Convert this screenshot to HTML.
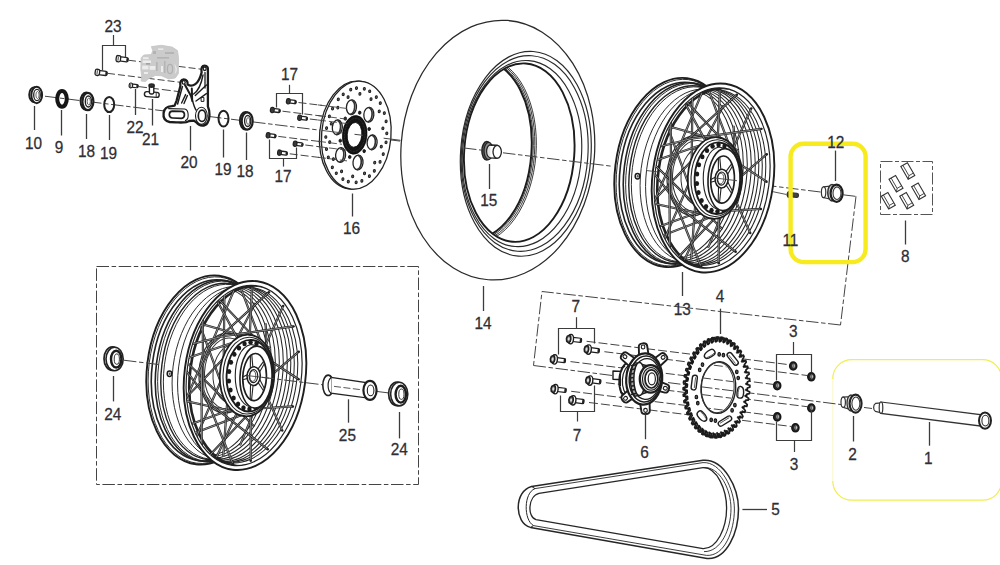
<!DOCTYPE html>
<html><head><meta charset="utf-8"><title>Rear wheel assembly</title>
<style>
html,body{margin:0;padding:0;background:#fff;}
body{width:1000px;height:565px;overflow:hidden;font-family:"Liberation Sans",sans-serif;}
svg{display:block;}
text{font-family:"Liberation Sans",sans-serif;}
</style></head><body>
<svg width="1000" height="565" viewBox="0 0 1000 565" stroke-linecap="butt">
<rect x="0" y="0" width="1000" height="565" fill="#fff"/>
<line x1="45" y1="96.23" x2="163" y2="110.81" stroke="#444" stroke-width="1" stroke-dasharray="12.5 2.6 4.5 2.6" stroke-dashoffset="0"/>
<line x1="209" y1="116.49" x2="322" y2="130.44" stroke="#444" stroke-width="1" stroke-dasharray="12.5 2.6 4.5 2.6" stroke-dashoffset="0"/>
<line x1="366" y1="136.88" x2="400" y2="141.08" stroke="#444" stroke-width="1" stroke-dasharray="12.5 2.6 4.5 2.6" stroke-dashoffset="0"/>
<line x1="742" y1="182.31" x2="822" y2="192.19" stroke="#444" stroke-width="1" stroke-dasharray="12.5 2.6 4.5 2.6" stroke-dashoffset="0"/>
<line x1="843" y1="194.79" x2="856" y2="196.39" stroke="#444" stroke-width="1" stroke-dasharray="12.5 2.6 4.5 2.6" stroke-dashoffset="0"/>
<line x1="771" y1="191.3" x2="786" y2="194.4" stroke="#444" stroke-width="0.9" />
<line x1="856" y1="196.39" x2="840.5" y2="325" stroke="#444" stroke-width="1" stroke-dasharray="12.5 2.6 4.5 2.6" stroke-dashoffset="0"/>
<ellipse cx="34.4" cy="94.7" rx="5.2" ry="7.6" fill="#fff" stroke="#1e1e1e" stroke-width="1.9" />
<ellipse cx="36.7" cy="95" rx="5.4" ry="8.2" fill="#fff" stroke="#1e1e1e" stroke-width="2.0" />
<ellipse cx="37" cy="95" rx="3.3" ry="5.6" fill="none" stroke="#222" stroke-width="1.3" />
<ellipse cx="37.5" cy="95" rx="1.6" ry="3.5" fill="none" stroke="#444" stroke-width="0.8" />
<ellipse cx="62" cy="98.8" rx="4.8" ry="7.9" fill="none" stroke="#161616" stroke-width="4.0" />
<ellipse cx="86.2" cy="101.2" rx="5.6" ry="8.8" fill="#fff" stroke="#1e1e1e" stroke-width="2.0" />
<ellipse cx="87.9" cy="101.5" rx="5.5" ry="8.6" fill="#fff" stroke="#1e1e1e" stroke-width="2.2" />
<ellipse cx="88.4" cy="101.5" rx="3.1" ry="5.5" fill="none" stroke="#222" stroke-width="1.4" />
<ellipse cx="88.8" cy="101.5" rx="1.6" ry="3.4" fill="none" stroke="#444" stroke-width="0.8" />
<ellipse cx="245.5" cy="120.7" rx="5.6" ry="8.8" fill="#fff" stroke="#1e1e1e" stroke-width="2.0" />
<ellipse cx="247.2" cy="121" rx="5.5" ry="8.6" fill="#fff" stroke="#1e1e1e" stroke-width="2.2" />
<ellipse cx="247.7" cy="121" rx="3.1" ry="5.5" fill="none" stroke="#222" stroke-width="1.4" />
<ellipse cx="248.1" cy="121" rx="1.6" ry="3.4" fill="none" stroke="#444" stroke-width="0.8" />
<ellipse cx="109.2" cy="104.5" rx="5" ry="7.6" fill="none" stroke="#222" stroke-width="2.0" />
<ellipse cx="223.5" cy="118.6" rx="5" ry="7.9" fill="none" stroke="#222" stroke-width="2.0" />
<g transform="translate(116.2 58.4) rotate(7)" stroke="#222" stroke-width="1.3">
<rect x="3.9" y="-2.1" width="8" height="4.2" rx="1.2" fill="#fff"/>
<rect x="10.2" y="-1.8" width="2.2" height="3.6" rx="0.8" fill="#222" stroke="none"/>
<rect x="0" y="-3.1" width="4.4" height="6.2" rx="1.8" fill="#fff"/>
<line x1="1.98" y1="-2.1" x2="1.98" y2="2.1" stroke-width="0.8"/>
</g>
<g transform="translate(95.2 72.1) rotate(7)" stroke="#222" stroke-width="1.3">
<rect x="3.9" y="-2.1" width="8" height="4.2" rx="1.2" fill="#fff"/>
<rect x="10.2" y="-1.8" width="2.2" height="3.6" rx="0.8" fill="#222" stroke="none"/>
<rect x="0" y="-3.1" width="4.4" height="6.2" rx="1.8" fill="#fff"/>
<line x1="1.98" y1="-2.1" x2="1.98" y2="2.1" stroke-width="0.8"/>
</g>
<g transform="translate(129.2 85.2) rotate(7)" stroke="#222" stroke-width="1.2">
<rect x="2.9" y="-1.6" width="6" height="3.2" rx="1.2" fill="#fff"/>
<rect x="7.2" y="-1.3" width="2.2" height="2.6" rx="0.8" fill="#222" stroke="none"/>
<rect x="0" y="-2.4" width="3.4" height="4.8" rx="1.8" fill="#fff"/>
<line x1="1.53" y1="-1.4" x2="1.53" y2="1.4" stroke-width="0.8"/>
</g>
<g transform="translate(286.5 101) rotate(7)" stroke="#222" stroke-width="1.3">
<rect x="3.1" y="-1.7" width="6.5" height="3.4" rx="1.2" fill="#fff"/>
<rect x="7.9" y="-1.4" width="2.2" height="2.8" rx="0.8" fill="#222" stroke="none"/>
<rect x="0" y="-2.6" width="3.6" height="5.2" rx="1.8" fill="#4a4a4a"/>
<line x1="1.62" y1="-1.6" x2="1.62" y2="1.6" stroke-width="0.8"/>
</g>
<g transform="translate(270.5 109.8) rotate(7)" stroke="#222" stroke-width="1.3">
<rect x="3.1" y="-1.7" width="6.5" height="3.4" rx="1.2" fill="#fff"/>
<rect x="7.9" y="-1.4" width="2.2" height="2.8" rx="0.8" fill="#222" stroke="none"/>
<rect x="0" y="-2.6" width="3.6" height="5.2" rx="1.8" fill="#4a4a4a"/>
<line x1="1.62" y1="-1.6" x2="1.62" y2="1.6" stroke-width="0.8"/>
</g>
<g transform="translate(297.8 117.5) rotate(7)" stroke="#222" stroke-width="1.3">
<rect x="3.1" y="-1.7" width="6.5" height="3.4" rx="1.2" fill="#fff"/>
<rect x="7.9" y="-1.4" width="2.2" height="2.8" rx="0.8" fill="#222" stroke="none"/>
<rect x="0" y="-2.6" width="3.6" height="5.2" rx="1.8" fill="#4a4a4a"/>
<line x1="1.62" y1="-1.6" x2="1.62" y2="1.6" stroke-width="0.8"/>
</g>
<g transform="translate(266.3 135) rotate(7)" stroke="#222" stroke-width="1.3">
<rect x="3.1" y="-1.7" width="6.5" height="3.4" rx="1.2" fill="#fff"/>
<rect x="7.9" y="-1.4" width="2.2" height="2.8" rx="0.8" fill="#222" stroke="none"/>
<rect x="0" y="-2.6" width="3.6" height="5.2" rx="1.8" fill="#4a4a4a"/>
<line x1="1.62" y1="-1.6" x2="1.62" y2="1.6" stroke-width="0.8"/>
</g>
<g transform="translate(293.3 143.5) rotate(7)" stroke="#222" stroke-width="1.3">
<rect x="3.1" y="-1.7" width="6.5" height="3.4" rx="1.2" fill="#fff"/>
<rect x="7.9" y="-1.4" width="2.2" height="2.8" rx="0.8" fill="#222" stroke="none"/>
<rect x="0" y="-2.6" width="3.6" height="5.2" rx="1.8" fill="#4a4a4a"/>
<line x1="1.62" y1="-1.6" x2="1.62" y2="1.6" stroke-width="0.8"/>
</g>
<g transform="translate(277.7 152.4) rotate(7)" stroke="#222" stroke-width="1.3">
<rect x="3.1" y="-1.7" width="6.5" height="3.4" rx="1.2" fill="#fff"/>
<rect x="7.9" y="-1.4" width="2.2" height="2.8" rx="0.8" fill="#222" stroke="none"/>
<rect x="0" y="-2.6" width="3.6" height="5.2" rx="1.8" fill="#4a4a4a"/>
<line x1="1.62" y1="-1.6" x2="1.62" y2="1.6" stroke-width="0.8"/>
</g>
<line x1="129" y1="60.3" x2="202" y2="69.3" stroke="#444" stroke-width="1" stroke-dasharray="7 3"/>
<line x1="108" y1="73.4" x2="181" y2="82.4" stroke="#444" stroke-width="1" stroke-dasharray="7 3"/>
<line x1="138" y1="86.5" x2="178" y2="91.5" stroke="#444" stroke-width="1" stroke-dasharray="9 3"/>
<line x1="298.5" y1="102.5" x2="322" y2="105.4" stroke="#444" stroke-width="1" stroke-dasharray="8 3"/>
<line x1="282.5" y1="111.2" x2="322" y2="116.08" stroke="#444" stroke-width="1" stroke-dasharray="8 3"/>
<line x1="309.8" y1="119" x2="322" y2="120.51" stroke="#444" stroke-width="1" stroke-dasharray="8 3"/>
<line x1="278.3" y1="136.4" x2="322" y2="141.8" stroke="#444" stroke-width="1" stroke-dasharray="8 3"/>
<line x1="305.3" y1="145" x2="322" y2="147.06" stroke="#444" stroke-width="1" stroke-dasharray="8 3"/>
<line x1="289.7" y1="153.8" x2="322" y2="157.79" stroke="#444" stroke-width="1" stroke-dasharray="8 3"/>
<g stroke="#222" stroke-width="1.4" fill="#fff"><rect x="144.4" y="92" width="14.8" height="5" rx="2.4" transform="rotate(4 152 94.5)"/><rect x="149.4" y="85" width="4.4" height="9" rx="1.4"/><ellipse cx="151.6" cy="85.6" rx="2.6" ry="1.7" fill="#333"/><line x1="156.2" y1="93" x2="156.2" y2="97"  stroke-width="0.9"/></g>
<g fill="#cbcbcb" stroke="#c4c4c4" stroke-width="0.8" stroke-linejoin="round">
<path d="M151.4,46.6 L161.5,45.3 L172.2,47.1 L177.5,50.6 L178.5,57.7 L178.4,73.6 L175.3,78 L168.6,78.9 L161.5,75.8 L155.4,75.4 L148.3,78.9 L145.6,81.6 L141.2,81.1 L141.6,75.4 L140.8,69.2 L141.2,57.7 L143.8,55 L151.4,54.6 L152.7,50.6 Z"/>
</g>
<g fill="#ececec" stroke="none"><rect x="143" y="57.2" width="5.6" height="2"/><rect x="142.6" y="60.4" width="8.4" height="2.6"/><rect x="142.2" y="65.6" width="6.2" height="3.8"/><rect x="149.6" y="66" width="5.8" height="3.8"/><rect x="158" y="48.4" width="5.4" height="1.5"/><path d="M174.2,64 C177.5,66 177.5,72 174.8,74 C176,71 176,67 174.2,64 Z"/><rect x="144" y="72" width="4" height="2"/><rect x="161" y="66" width="2" height="6"/></g>
<g fill="#b4b4b4" stroke="none"><rect x="153" y="51" width="3" height="3"/><rect x="165" y="52" width="9" height="2"/><rect x="157" y="57" width="12" height="1.6"/><rect x="156" y="62" width="1.6" height="9"/><rect x="164" y="61" width="1.5" height="12"/><ellipse cx="170" cy="69" rx="2.6" ry="4.6" fill="none" stroke="#b0b0b0" stroke-width="1.2"/><rect x="146" y="63.4" width="4" height="1" fill="#888"/></g>
<g stroke="#1c1c1c" fill="none" stroke-linejoin="round" stroke-linecap="round">
<path d="M204.6,65.6 C207.2,65.6 208.2,67.6 207.9,70.4 L207.9,106.5 C210,111 210.2,119 207.4,123 C204.8,126.6 199.6,126.6 196.6,122.6 L194,120.6 L189,121 C187,123 183,122.6 176,122.4 L169.6,122 C164.6,121 163,117.6 163.6,113 C164.2,108.6 167.6,106.4 171.6,106.2 L174.6,105.6 L176.6,100.6 L180.4,86 C179.6,82 181.2,79.4 183.6,79.3 C186.6,79.3 188,81.6 187.6,84.6 C192.4,87.4 198.6,84.6 201.6,72.4 C200.8,68 202.2,65.6 204.6,65.6 Z" stroke-width="2.3" fill="#fff"/>
<path d="M172.6,111.2 L181.6,111.4 C185.4,111.6 185.4,118 181.6,118.3 L172.6,118 C168.2,117.8 168.2,111.3 172.6,111.2 Z" stroke-width="1.7"/>
<path d="M168.6,108.6 L184.6,109 C189,109.6 189.4,119.4 185.4,120.6" stroke-width="1.1"/>
<ellipse cx="202" cy="115.8" rx="3.7" ry="5.7" stroke-width="1.7"/>
<ellipse cx="201.4" cy="115.8" rx="5.9" ry="8.6" stroke-width="1.1"/>
<path d="M185,85 L191,96 L192.4,101 M191.8,88.6 L192.2,101" stroke-width="2"/>
<path d="M182.4,86.6 L177.6,104" stroke-width="1.5"/>
<path d="M185.6,94.6 L181.6,103 M187.4,95.6 L184,103.6" stroke-width="1.4"/>
<path d="M195.3,95.6 L206.4,85 M196,101 L206.4,93.6" stroke-width="1.4"/>
<path d="M205,72.6 L205,88" stroke-width="1.3"/>
<path d="M203,75 C201,86 196.6,92 193.6,94" stroke-width="1.4"/>
<path d="M192.6,101 C194,106 194.6,108 196,110" stroke-width="1.4"/>
<rect x="201.5" y="97.4" width="2.4" height="4" stroke-width="1"/>
<ellipse cx="204.7" cy="68.8" rx="1.5" ry="1.7" stroke-width="1.3"/>
<ellipse cx="183.7" cy="82.4" rx="1.5" ry="1.7" stroke-width="1.3"/>
</g>
<g transform="rotate(5 356.3 135.2)">
<ellipse cx="354.3" cy="135.2" rx="34.7" ry="54.1" fill="#fff" stroke="#222" stroke-width="1.3" />
<ellipse cx="356.3" cy="135.2" rx="34.7" ry="54.1" fill="#fff" stroke="#222" stroke-width="1.3" />
<ellipse cx="360.24" cy="182.14" rx="1.05" ry="1.35" fill="#666" stroke="#1c1c1c" stroke-width="1.0" />
<ellipse cx="352.36" cy="182.14" rx="1.05" ry="1.35" fill="#666" stroke="#1c1c1c" stroke-width="1.0" />
<ellipse cx="356.3" cy="176.59" rx="1.05" ry="1.35" fill="#666" stroke="#1c1c1c" stroke-width="1.0" />
<ellipse cx="346.78" cy="180.15" rx="1.05" ry="1.35" fill="#666" stroke="#1c1c1c" stroke-width="1.0" />
<ellipse cx="339.69" cy="174.83" rx="1.05" ry="1.35" fill="#666" stroke="#1c1c1c" stroke-width="1.0" />
<ellipse cx="344.78" cy="172.49" rx="1.05" ry="1.35" fill="#666" stroke="#1c1c1c" stroke-width="1.0" />
<ellipse cx="335.22" cy="169.26" rx="1.05" ry="1.35" fill="#666" stroke="#1c1c1c" stroke-width="1.0" />
<ellipse cx="330.31" cy="159.67" rx="1.05" ry="1.35" fill="#666" stroke="#1c1c1c" stroke-width="1.0" />
<ellipse cx="335.55" cy="161" rx="1.05" ry="1.35" fill="#666" stroke="#1c1c1c" stroke-width="1.0" />
<ellipse cx="327.82" cy="151.63" rx="1.05" ry="1.35" fill="#666" stroke="#1c1c1c" stroke-width="1.0" />
<ellipse cx="326.07" cy="139.66" rx="1.05" ry="1.35" fill="#666" stroke="#1c1c1c" stroke-width="1.0" />
<ellipse cx="330.42" cy="144.41" rx="1.05" ry="1.35" fill="#666" stroke="#1c1c1c" stroke-width="1.0" />
<ellipse cx="326.07" cy="130.74" rx="1.05" ry="1.35" fill="#666" stroke="#1c1c1c" stroke-width="1.0" />
<ellipse cx="327.82" cy="118.77" rx="1.05" ry="1.35" fill="#666" stroke="#1c1c1c" stroke-width="1.0" />
<ellipse cx="330.42" cy="125.99" rx="1.05" ry="1.35" fill="#666" stroke="#1c1c1c" stroke-width="1.0" />
<ellipse cx="330.31" cy="110.73" rx="1.05" ry="1.35" fill="#666" stroke="#1c1c1c" stroke-width="1.0" />
<ellipse cx="335.22" cy="101.14" rx="1.05" ry="1.35" fill="#666" stroke="#1c1c1c" stroke-width="1.0" />
<ellipse cx="335.55" cy="109.4" rx="1.05" ry="1.35" fill="#666" stroke="#1c1c1c" stroke-width="1.0" />
<ellipse cx="339.69" cy="95.57" rx="1.05" ry="1.35" fill="#666" stroke="#1c1c1c" stroke-width="1.0" />
<ellipse cx="346.78" cy="90.25" rx="1.05" ry="1.35" fill="#666" stroke="#1c1c1c" stroke-width="1.0" />
<ellipse cx="344.78" cy="97.91" rx="1.05" ry="1.35" fill="#666" stroke="#1c1c1c" stroke-width="1.0" />
<ellipse cx="352.36" cy="88.26" rx="1.05" ry="1.35" fill="#666" stroke="#1c1c1c" stroke-width="1.0" />
<ellipse cx="360.24" cy="88.26" rx="1.05" ry="1.35" fill="#666" stroke="#1c1c1c" stroke-width="1.0" />
<ellipse cx="356.3" cy="93.81" rx="1.05" ry="1.35" fill="#666" stroke="#1c1c1c" stroke-width="1.0" />
<ellipse cx="365.82" cy="90.25" rx="1.05" ry="1.35" fill="#666" stroke="#1c1c1c" stroke-width="1.0" />
<ellipse cx="372.91" cy="95.57" rx="1.05" ry="1.35" fill="#666" stroke="#1c1c1c" stroke-width="1.0" />
<ellipse cx="367.82" cy="97.91" rx="1.05" ry="1.35" fill="#666" stroke="#1c1c1c" stroke-width="1.0" />
<ellipse cx="377.38" cy="101.14" rx="1.05" ry="1.35" fill="#666" stroke="#1c1c1c" stroke-width="1.0" />
<ellipse cx="382.29" cy="110.73" rx="1.05" ry="1.35" fill="#666" stroke="#1c1c1c" stroke-width="1.0" />
<ellipse cx="377.05" cy="109.4" rx="1.05" ry="1.35" fill="#666" stroke="#1c1c1c" stroke-width="1.0" />
<ellipse cx="384.78" cy="118.77" rx="1.05" ry="1.35" fill="#666" stroke="#1c1c1c" stroke-width="1.0" />
<ellipse cx="386.53" cy="130.74" rx="1.05" ry="1.35" fill="#666" stroke="#1c1c1c" stroke-width="1.0" />
<ellipse cx="382.18" cy="125.99" rx="1.05" ry="1.35" fill="#666" stroke="#1c1c1c" stroke-width="1.0" />
<ellipse cx="386.53" cy="139.66" rx="1.05" ry="1.35" fill="#666" stroke="#1c1c1c" stroke-width="1.0" />
<ellipse cx="384.78" cy="151.63" rx="1.05" ry="1.35" fill="#666" stroke="#1c1c1c" stroke-width="1.0" />
<ellipse cx="382.18" cy="144.41" rx="1.05" ry="1.35" fill="#666" stroke="#1c1c1c" stroke-width="1.0" />
<ellipse cx="382.29" cy="159.67" rx="1.05" ry="1.35" fill="#666" stroke="#1c1c1c" stroke-width="1.0" />
<ellipse cx="377.38" cy="169.26" rx="1.05" ry="1.35" fill="#666" stroke="#1c1c1c" stroke-width="1.0" />
<ellipse cx="377.05" cy="161" rx="1.05" ry="1.35" fill="#666" stroke="#1c1c1c" stroke-width="1.0" />
<ellipse cx="372.91" cy="174.83" rx="1.05" ry="1.35" fill="#666" stroke="#1c1c1c" stroke-width="1.0" />
<ellipse cx="365.82" cy="180.15" rx="1.05" ry="1.35" fill="#666" stroke="#1c1c1c" stroke-width="1.0" />
<ellipse cx="367.82" cy="172.49" rx="1.05" ry="1.35" fill="#666" stroke="#1c1c1c" stroke-width="1.0" />
<ellipse cx="367.01" cy="113.69" rx="5" ry="7.4" fill="#fff" stroke="#222" stroke-width="1.3"/>
<path d="M368.01,106.49 A5 7.4 0 0 1 368.01,120.89" fill="none" stroke="#333" stroke-width="1.7" transform="translate(-1.6 0)"/>
<ellipse cx="372.69" cy="140.96" rx="5" ry="7.4" fill="#fff" stroke="#222" stroke-width="1.3"/>
<path d="M373.69,133.76 A5 7.4 0 0 1 373.69,148.16" fill="none" stroke="#333" stroke-width="1.7" transform="translate(-1.6 0)"/>
<ellipse cx="360.38" cy="162.27" rx="5" ry="7.4" fill="#fff" stroke="#222" stroke-width="1.3"/>
<path d="M361.38,155.07 A5 7.4 0 0 1 361.38,169.47" fill="none" stroke="#333" stroke-width="1.7" transform="translate(-1.6 0)"/>
<ellipse cx="342.39" cy="156.31" rx="5" ry="7.4" fill="#fff" stroke="#222" stroke-width="1.3"/>
<path d="M343.39,149.11 A5 7.4 0 0 1 343.39,163.51" fill="none" stroke="#333" stroke-width="1.7" transform="translate(-1.6 0)"/>
<ellipse cx="336.71" cy="129.04" rx="5" ry="7.4" fill="#fff" stroke="#222" stroke-width="1.3"/>
<path d="M337.71,121.84 A5 7.4 0 0 1 337.71,136.24" fill="none" stroke="#333" stroke-width="1.7" transform="translate(-1.6 0)"/>
<ellipse cx="349.02" cy="107.73" rx="5" ry="7.4" fill="#fff" stroke="#222" stroke-width="1.3"/>
<path d="M350.02,100.53 A5 7.4 0 0 1 350.02,114.93" fill="none" stroke="#333" stroke-width="1.7" transform="translate(-1.6 0)"/>
<ellipse cx="354.7" cy="135" rx="12.3" ry="19.5" fill="#141414" stroke="#000" stroke-width="0.6" />
<ellipse cx="354.5" cy="135" rx="7.3" ry="12.4" fill="#fff" stroke="#000" stroke-width="0.8" />
<ellipse cx="354.7" cy="135" rx="10.2" ry="16.6" fill="none" stroke="#555" stroke-width="0.6" stroke-dasharray="0.7 0.9"/>
<ellipse cx="368.59" cy="127.89" rx="1.3" ry="1.6" fill="#222" stroke="#111" stroke-width="0.8" />
<ellipse cx="365.55" cy="150.39" rx="1.3" ry="1.6" fill="#222" stroke="#111" stroke-width="0.8" />
<ellipse cx="351.66" cy="157.5" rx="1.3" ry="1.6" fill="#222" stroke="#111" stroke-width="0.8" />
<ellipse cx="340.81" cy="142.11" rx="1.3" ry="1.6" fill="#222" stroke="#111" stroke-width="0.8" />
<ellipse cx="343.85" cy="119.61" rx="1.3" ry="1.6" fill="#222" stroke="#111" stroke-width="0.8" />
<ellipse cx="357.74" cy="112.5" rx="1.3" ry="1.6" fill="#222" stroke="#111" stroke-width="0.8" />
</g>
<line x1="354.5" y1="134.3" x2="363" y2="135.3" stroke="#444" stroke-width="1" />
<line x1="383.6" y1="138.2" x2="400.5" y2="140.3" stroke="#444" stroke-width="1" />
<line x1="318" y1="104.91" x2="347" y2="108.49" stroke="#444" stroke-width="0.9" stroke-dasharray="8 3"/>
<line x1="318" y1="115.58" x2="347" y2="119.17" stroke="#444" stroke-width="0.9" stroke-dasharray="8 3"/>
<line x1="318" y1="120.01" x2="347" y2="123.59" stroke="#444" stroke-width="0.9" stroke-dasharray="8 3"/>
<line x1="318" y1="141.3" x2="342" y2="144.27" stroke="#444" stroke-width="0.9" stroke-dasharray="8 3"/>
<line x1="318" y1="146.57" x2="347" y2="150.15" stroke="#444" stroke-width="0.9" stroke-dasharray="8 3"/>
<line x1="318" y1="157.3" x2="347" y2="160.88" stroke="#444" stroke-width="0.9" stroke-dasharray="8 3"/>
<line x1="322" y1="130.44" x2="343" y2="133.04" stroke="#444" stroke-width="0.9" />
<ellipse cx="497.8" cy="150.1" rx="96.8" ry="130" fill="#fff" stroke="#2a2a2a" stroke-width="1.25" transform="rotate(4.2 497.8 150.1)" />
<defs><clipPath id="tclip"><ellipse cx="519.1" cy="152.6" rx="54.5" ry="89" transform="rotate(4.2 519.1 152.6)"/></clipPath></defs>
<ellipse cx="525.8" cy="153.8" rx="65.2" ry="102.6" fill="none" stroke="#2a2a2a" stroke-width="1.2" transform="rotate(4.2 525.8 153.8)" />
<ellipse cx="524.7" cy="153.5" rx="63.2" ry="98" fill="none" stroke="#2a2a2a" stroke-width="1.15" transform="rotate(4.2 524.7 153.5)" />
<ellipse cx="522" cy="153.6" rx="59.5" ry="93.2" fill="none" stroke="#2a2a2a" stroke-width="1.15" transform="rotate(4.2 522 153.6)" />
<ellipse cx="519.25" cy="152.6" rx="55.05" ry="89.4" fill="none" stroke="#1c1c1c" stroke-width="1.9" transform="rotate(4.2 519.25 152.6)" />
<g clip-path="url(#tclip)">
<ellipse cx="477.5" cy="150" rx="54" ry="89.4" fill="none" stroke="#1c1c1c" stroke-width="2.0" transform="rotate(4.2 477.5 150)" />
<ellipse cx="478.4" cy="150.2" rx="54.7" ry="90.4" fill="none" stroke="#2a2a2a" stroke-width="0.9" transform="rotate(4.2 478.4 150.2)" />
<ellipse cx="479.2" cy="150.4" rx="55.4" ry="91.4" fill="none" stroke="#2a2a2a" stroke-width="0.9" transform="rotate(4.2 479.2 150.4)" />
<ellipse cx="480" cy="150.6" rx="56.1" ry="92.4" fill="none" stroke="#2a2a2a" stroke-width="0.9" transform="rotate(4.2 480 150.6)" />
</g>
<g stroke="#222" fill="#fff">
<ellipse cx="486.8" cy="150.8" rx="4.9" ry="9.2" stroke-width="1.5" fill="#5a5a5a"/>
<ellipse cx="488.6" cy="151" rx="4.6" ry="8.6" stroke-width="1.2" fill="#8a8a8a"/>
<path d="M490,145 L497.2,145.4 L497.2,158.2 L490,157.6 Z" stroke-width="1.2" fill="#fff"/>
<ellipse cx="490.2" cy="151.3" rx="3.6" ry="6.3" stroke-width="1.2" fill="#e4e4e4"/>
<path d="M490.2,145 L497.2,145.4 M490.2,157.6 L497.2,158.2" stroke-width="1.2"/>
<rect x="490.4" y="146" width="6.8" height="11.4" fill="#fff" stroke="none"/>
<ellipse cx="497.2" cy="151.8" rx="4.2" ry="6.4" stroke-width="1.3" fill="#fff"/>
</g>
<line x1="464" y1="147.98" x2="482" y2="150.2" stroke="#444" stroke-width="1" stroke-dasharray="12.5 2.6 4.5 2.6" stroke-dashoffset="0"/>
<line x1="503" y1="152.8" x2="612" y2="166.26" stroke="#444" stroke-width="1" stroke-dasharray="12.5 2.6 4.5 2.6" stroke-dashoffset="0"/>
<defs><g id="wheel"><ellipse cx="675.5" cy="172.5" rx="60.5" ry="95" fill="#fff" stroke="#1e1e1e" stroke-width="1.9" transform="rotate(7 675.5 172.5)" />
<ellipse cx="676.5" cy="172.65" rx="59.71" ry="93.77" fill="none" stroke="#222" stroke-width="0.9" transform="rotate(7.2 676.5 172.65)" />
<ellipse cx="678" cy="172.87" rx="58" ry="91.08" fill="none" stroke="#222" stroke-width="1.6" transform="rotate(7.2 678 172.87)" />
<ellipse cx="682" cy="173.45" rx="58" ry="91.08" fill="none" stroke="#222" stroke-width="1.6" transform="rotate(7.2 682 173.45)" />
<ellipse cx="684" cy="173.75" rx="57.7" ry="90.6" fill="none" stroke="#222" stroke-width="0.9" transform="rotate(7.2 684 173.75)" />
<ellipse cx="686" cy="174.04" rx="56.5" ry="88.72" fill="none" stroke="#222" stroke-width="1.4" transform="rotate(7.2 686 174.04)" />
<ellipse cx="688" cy="174.33" rx="56" ry="87.93" fill="none" stroke="#222" stroke-width="0.9" transform="rotate(7.2 688 174.33)" />
<ellipse cx="696" cy="175.51" rx="55.3" ry="86.83" fill="none" stroke="#222" stroke-width="0.9" transform="rotate(7.2 696 175.51)" />
<ellipse cx="702" cy="176.39" rx="55.8" ry="87.62" fill="none" stroke="#222" stroke-width="0.9" transform="rotate(7.2 702 176.39)" />
<ellipse cx="637.5" cy="176.2" rx="2.3" ry="2.7" fill="#fff" stroke="#1c1c1c" stroke-width="1.5"/>
<ellipse cx="637.7" cy="176.2" rx="1" ry="1.3" fill="#555" stroke="none"/>
<ellipse cx="713" cy="178" rx="60.5" ry="95" fill="#fff" stroke="#1e1e1e" stroke-width="1.9" transform="rotate(7.5 713 178)" />
<ellipse cx="712.1" cy="178" rx="57.2" ry="90.6" fill="none" stroke="#222" stroke-width="1.2" transform="rotate(7.5 712.1 178)" />
<clipPath id="wclip"><ellipse cx="712.1" cy="178" rx="57.2" ry="90.6" transform="rotate(7.5 712.1 178)"/></clipPath>
<g clip-path="url(#wclip)">
<ellipse cx="708.6" cy="177.57" rx="56.4" ry="88.4" fill="none" stroke="#262626" stroke-width="1.05" transform="rotate(7.5 708.6 177.57)" />
<ellipse cx="705.1" cy="177.14" rx="56.4" ry="88.4" fill="none" stroke="#262626" stroke-width="1.05" transform="rotate(7.5 705.1 177.14)" />
<ellipse cx="701.6" cy="176.7" rx="56.4" ry="88.4" fill="none" stroke="#262626" stroke-width="1.05" transform="rotate(7.5 701.6 176.7)" />
<ellipse cx="698.1" cy="176.27" rx="56.4" ry="88.4" fill="none" stroke="#262626" stroke-width="1.05" transform="rotate(7.5 698.1 176.27)" />
<ellipse cx="694.6" cy="175.84" rx="55.9" ry="87.65" fill="none" stroke="#262626" stroke-width="1.05" transform="rotate(7.5 694.6 175.84)" />
<ellipse cx="691.1" cy="175.41" rx="55.4" ry="86.9" fill="none" stroke="#262626" stroke-width="1.05" transform="rotate(7.5 691.1 175.41)" />
<ellipse cx="687.6" cy="174.97" rx="54.9" ry="86.15" fill="none" stroke="#262626" stroke-width="1.05" transform="rotate(7.5 687.6 174.97)" />
<ellipse cx="684.1" cy="174.54" rx="54.4" ry="85.4" fill="none" stroke="#262626" stroke-width="1.05" transform="rotate(7.5 684.1 174.54)" />
<ellipse cx="680.6" cy="174.11" rx="53.9" ry="84.65" fill="none" stroke="#262626" stroke-width="1.05" transform="rotate(7.5 680.6 174.11)" />
<ellipse cx="716.4" cy="178.4" rx="58.4" ry="90.8" fill="none" stroke="#222" stroke-width="2.6" transform="rotate(7.5 716.4 178.4)" />
<ellipse cx="694" cy="175.7" rx="27" ry="40" fill="#fff" stroke="#333" stroke-width="1.3" transform="rotate(3 694 175.7)" />
<ellipse cx="696" cy="176" rx="23.5" ry="35.5" fill="none" stroke="#333" stroke-width="1.0" transform="rotate(3 696 176)" />
<ellipse cx="700" cy="176.4" rx="19" ry="29" fill="none" stroke="#333" stroke-width="1.0" transform="rotate(3 700 176.4)" />
<line x1="736.27" y1="195.17" x2="673.49" y2="262.35" stroke="#1e1e1e" stroke-width="2.2"/>
<line x1="736.27" y1="195.17" x2="673.49" y2="262.35" stroke="#b4b4b4" stroke-width="0.75"/>
<line x1="736.27" y1="195.17" x2="733.58" y2="125.79" stroke="#1e1e1e" stroke-width="2.2"/>
<line x1="736.27" y1="195.17" x2="733.58" y2="125.79" stroke="#b4b4b4" stroke-width="0.75"/>
<line x1="724.66" y1="211.8" x2="642.62" y2="243.18" stroke="#1e1e1e" stroke-width="2.2"/>
<line x1="724.66" y1="211.8" x2="642.62" y2="243.18" stroke="#b4b4b4" stroke-width="0.75"/>
<line x1="724.66" y1="211.8" x2="738.61" y2="178.31" stroke="#1e1e1e" stroke-width="2.2"/>
<line x1="724.66" y1="211.8" x2="738.61" y2="178.31" stroke="#b4b4b4" stroke-width="0.75"/>
<line x1="708.98" y1="215.52" x2="627.17" y2="197.7" stroke="#1e1e1e" stroke-width="2.2"/>
<line x1="708.98" y1="215.52" x2="627.17" y2="197.7" stroke="#b4b4b4" stroke-width="0.75"/>
<line x1="708.98" y1="215.52" x2="722.4" y2="229.3" stroke="#1e1e1e" stroke-width="2.2"/>
<line x1="708.98" y1="215.52" x2="722.4" y2="229.3" stroke="#b4b4b4" stroke-width="0.75"/>
<line x1="695.22" y1="204.9" x2="633.05" y2="143.28" stroke="#1e1e1e" stroke-width="2.2"/>
<line x1="695.22" y1="204.9" x2="633.05" y2="143.28" stroke="#b4b4b4" stroke-width="0.75"/>
<line x1="695.22" y1="204.9" x2="691.14" y2="259.28" stroke="#1e1e1e" stroke-width="2.2"/>
<line x1="695.22" y1="204.9" x2="691.14" y2="259.28" stroke="#b4b4b4" stroke-width="0.75"/>
<line x1="688.63" y1="184.01" x2="658" y2="100.71" stroke="#1e1e1e" stroke-width="2.2"/>
<line x1="688.63" y1="184.01" x2="658" y2="100.71" stroke="#b4b4b4" stroke-width="0.75"/>
<line x1="688.63" y1="184.01" x2="656.77" y2="256.8" stroke="#1e1e1e" stroke-width="2.2"/>
<line x1="688.63" y1="184.01" x2="656.77" y2="256.8" stroke="#b4b4b4" stroke-width="0.75"/>
<line x1="691.73" y1="160.83" x2="692.51" y2="86.25" stroke="#1e1e1e" stroke-width="2.2"/>
<line x1="691.73" y1="160.83" x2="692.51" y2="86.25" stroke="#b4b4b4" stroke-width="0.75"/>
<line x1="691.73" y1="160.83" x2="632.42" y2="222.81" stroke="#1e1e1e" stroke-width="2.2"/>
<line x1="691.73" y1="160.83" x2="632.42" y2="222.81" stroke="#b4b4b4" stroke-width="0.75"/>
<line x1="703.34" y1="144.2" x2="723.38" y2="105.42" stroke="#1e1e1e" stroke-width="2.2"/>
<line x1="703.34" y1="144.2" x2="723.38" y2="105.42" stroke="#b4b4b4" stroke-width="0.75"/>
<line x1="703.34" y1="144.2" x2="627.39" y2="170.29" stroke="#1e1e1e" stroke-width="2.2"/>
<line x1="703.34" y1="144.2" x2="627.39" y2="170.29" stroke="#b4b4b4" stroke-width="0.75"/>
<line x1="719.02" y1="140.48" x2="738.83" y2="150.9" stroke="#1e1e1e" stroke-width="2.2"/>
<line x1="719.02" y1="140.48" x2="738.83" y2="150.9" stroke="#b4b4b4" stroke-width="0.75"/>
<line x1="719.02" y1="140.48" x2="643.6" y2="119.3" stroke="#1e1e1e" stroke-width="2.2"/>
<line x1="719.02" y1="140.48" x2="643.6" y2="119.3" stroke="#b4b4b4" stroke-width="0.75"/>
<line x1="732.78" y1="151.1" x2="732.95" y2="205.32" stroke="#1e1e1e" stroke-width="2.2"/>
<line x1="732.78" y1="151.1" x2="732.95" y2="205.32" stroke="#b4b4b4" stroke-width="0.75"/>
<line x1="732.78" y1="151.1" x2="674.86" y2="89.32" stroke="#1e1e1e" stroke-width="2.2"/>
<line x1="732.78" y1="151.1" x2="674.86" y2="89.32" stroke="#b4b4b4" stroke-width="0.75"/>
<line x1="739.37" y1="171.99" x2="708" y2="247.89" stroke="#1e1e1e" stroke-width="2.2"/>
<line x1="739.37" y1="171.99" x2="708" y2="247.89" stroke="#b4b4b4" stroke-width="0.75"/>
<line x1="739.37" y1="171.99" x2="709.23" y2="91.8" stroke="#1e1e1e" stroke-width="2.2"/>
<line x1="739.37" y1="171.99" x2="709.23" y2="91.8" stroke="#b4b4b4" stroke-width="0.75"/>
<line x1="718.55" y1="181.48" x2="718.74" y2="263.26" stroke="#1e1e1e" stroke-width="2.2"/>
<line x1="718.55" y1="181.48" x2="718.74" y2="263.26" stroke="#b4b4b4" stroke-width="0.75"/>
<circle cx="718.74" cy="263.26" r="1.2" fill="#222"/>
<line x1="718.55" y1="181.48" x2="751.22" y2="108.36" stroke="#1e1e1e" stroke-width="2.2"/>
<line x1="718.55" y1="181.48" x2="751.22" y2="108.36" stroke="#b4b4b4" stroke-width="0.75"/>
<circle cx="751.22" cy="108.36" r="1.2" fill="#222"/>
<line x1="710.96" y1="202.14" x2="684.06" y2="260.76" stroke="#1e1e1e" stroke-width="2.2"/>
<line x1="710.96" y1="202.14" x2="684.06" y2="260.76" stroke="#b4b4b4" stroke-width="0.75"/>
<circle cx="684.06" cy="260.76" r="1.2" fill="#222"/>
<line x1="710.96" y1="202.14" x2="766.82" y2="154.16" stroke="#1e1e1e" stroke-width="2.2"/>
<line x1="710.96" y1="202.14" x2="766.82" y2="154.16" stroke="#b4b4b4" stroke-width="0.75"/>
<circle cx="766.82" cy="154.16" r="1.2" fill="#222"/>
<line x1="696.89" y1="212.7" x2="659.48" y2="226.53" stroke="#1e1e1e" stroke-width="2.2"/>
<line x1="696.89" y1="212.7" x2="659.48" y2="226.53" stroke="#b4b4b4" stroke-width="0.75"/>
<circle cx="659.48" cy="226.53" r="1.2" fill="#222"/>
<line x1="696.89" y1="212.7" x2="760.91" y2="208.95" stroke="#1e1e1e" stroke-width="2.2"/>
<line x1="696.89" y1="212.7" x2="760.91" y2="208.95" stroke="#b4b4b4" stroke-width="0.75"/>
<circle cx="760.91" cy="208.95" r="1.2" fill="#222"/>
<line x1="681.72" y1="209.12" x2="654.39" y2="173.65" stroke="#1e1e1e" stroke-width="2.2"/>
<line x1="681.72" y1="209.12" x2="654.39" y2="173.65" stroke="#b4b4b4" stroke-width="0.75"/>
<circle cx="654.39" cy="173.65" r="1.2" fill="#222"/>
<line x1="681.72" y1="209.12" x2="735.74" y2="251.8" stroke="#1e1e1e" stroke-width="2.2"/>
<line x1="681.72" y1="209.12" x2="735.74" y2="251.8" stroke="#b4b4b4" stroke-width="0.75"/>
<circle cx="735.74" cy="251.8" r="1.2" fill="#222"/>
<line x1="671.24" y1="192.78" x2="670.73" y2="122.32" stroke="#1e1e1e" stroke-width="2.2"/>
<line x1="671.24" y1="192.78" x2="670.73" y2="122.32" stroke="#b4b4b4" stroke-width="0.75"/>
<circle cx="670.73" cy="122.32" r="1.2" fill="#222"/>
<line x1="671.24" y1="192.78" x2="700.93" y2="266.35" stroke="#1e1e1e" stroke-width="2.2"/>
<line x1="671.24" y1="192.78" x2="700.93" y2="266.35" stroke="#b4b4b4" stroke-width="0.75"/>
<circle cx="700.93" cy="266.35" r="1.2" fill="#222"/>
<line x1="669.45" y1="169.92" x2="702.26" y2="92.14" stroke="#1e1e1e" stroke-width="2.2"/>
<line x1="669.45" y1="169.92" x2="702.26" y2="92.14" stroke="#b4b4b4" stroke-width="0.75"/>
<circle cx="702.26" cy="92.14" r="1.2" fill="#222"/>
<line x1="669.45" y1="169.92" x2="669.78" y2="247.04" stroke="#1e1e1e" stroke-width="2.2"/>
<line x1="669.45" y1="169.92" x2="669.78" y2="247.04" stroke="#b4b4b4" stroke-width="0.75"/>
<circle cx="669.78" cy="247.04" r="1.2" fill="#222"/>
<line x1="677.04" y1="149.26" x2="736.94" y2="94.64" stroke="#1e1e1e" stroke-width="2.2"/>
<line x1="677.04" y1="149.26" x2="736.94" y2="94.64" stroke="#b4b4b4" stroke-width="0.75"/>
<circle cx="736.94" cy="94.64" r="1.2" fill="#222"/>
<line x1="677.04" y1="149.26" x2="654.18" y2="201.24" stroke="#1e1e1e" stroke-width="2.2"/>
<line x1="677.04" y1="149.26" x2="654.18" y2="201.24" stroke="#b4b4b4" stroke-width="0.75"/>
<circle cx="654.18" cy="201.24" r="1.2" fill="#222"/>
<line x1="691.11" y1="138.7" x2="761.52" y2="128.87" stroke="#1e1e1e" stroke-width="2.2"/>
<line x1="691.11" y1="138.7" x2="761.52" y2="128.87" stroke="#b4b4b4" stroke-width="0.75"/>
<circle cx="761.52" cy="128.87" r="1.2" fill="#222"/>
<line x1="691.11" y1="138.7" x2="660.09" y2="146.45" stroke="#1e1e1e" stroke-width="2.2"/>
<line x1="691.11" y1="138.7" x2="660.09" y2="146.45" stroke="#b4b4b4" stroke-width="0.75"/>
<circle cx="660.09" cy="146.45" r="1.2" fill="#222"/>
<line x1="706.28" y1="142.28" x2="766.61" y2="181.75" stroke="#1e1e1e" stroke-width="2.2"/>
<line x1="706.28" y1="142.28" x2="766.61" y2="181.75" stroke="#b4b4b4" stroke-width="0.75"/>
<circle cx="766.61" cy="181.75" r="1.2" fill="#222"/>
<line x1="706.28" y1="142.28" x2="685.26" y2="103.6" stroke="#1e1e1e" stroke-width="2.2"/>
<line x1="706.28" y1="142.28" x2="685.26" y2="103.6" stroke="#b4b4b4" stroke-width="0.75"/>
<circle cx="685.26" cy="103.6" r="1.2" fill="#222"/>
<line x1="716.76" y1="158.62" x2="750.27" y2="233.08" stroke="#1e1e1e" stroke-width="2.2"/>
<line x1="716.76" y1="158.62" x2="750.27" y2="233.08" stroke="#b4b4b4" stroke-width="0.75"/>
<circle cx="750.27" cy="233.08" r="1.2" fill="#222"/>
<line x1="716.76" y1="158.62" x2="720.07" y2="89.05" stroke="#1e1e1e" stroke-width="2.2"/>
<line x1="716.76" y1="158.62" x2="720.07" y2="89.05" stroke="#b4b4b4" stroke-width="0.75"/>
<circle cx="720.07" cy="89.05" r="1.2" fill="#222"/>
</g>
<ellipse cx="715" cy="178" rx="27.2" ry="40.8" fill="#fff" stroke="#1e1e1e" stroke-width="1.8" transform="rotate(2.5 715 178)" />
<ellipse cx="716.2" cy="178.1" rx="25.2" ry="38.4" fill="none" stroke="#222" stroke-width="1.1" transform="rotate(2.5 716.2 178.1)" />
<ellipse cx="717.6" cy="178.2" rx="23" ry="35.8" fill="none" stroke="#1c1c1c" stroke-width="1.9" transform="rotate(2.5 717.6 178.2)" />
<ellipse cx="723.45" cy="210.08" rx="2.2" ry="2.5" fill="#1a1a1a"/>
<ellipse cx="717.45" cy="211.58" rx="2.2" ry="2.5" fill="#1a1a1a"/>
<ellipse cx="711.49" cy="210.37" rx="2.2" ry="2.5" fill="#1a1a1a"/>
<ellipse cx="706.06" cy="206.55" rx="2.2" ry="2.5" fill="#1a1a1a"/>
<ellipse cx="701.6" cy="200.44" rx="2.2" ry="2.5" fill="#1a1a1a"/>
<ellipse cx="698.47" cy="192.52" rx="2.2" ry="2.5" fill="#1a1a1a"/>
<ellipse cx="696.92" cy="183.45" rx="2.2" ry="2.5" fill="#1a1a1a"/>
<ellipse cx="697.07" cy="173.95" rx="2.2" ry="2.5" fill="#1a1a1a"/>
<ellipse cx="698.92" cy="164.79" rx="2.2" ry="2.5" fill="#1a1a1a"/>
<ellipse cx="702.32" cy="156.72" rx="2.2" ry="2.5" fill="#1a1a1a"/>
<ellipse cx="706.99" cy="150.39" rx="2.2" ry="2.5" fill="#1a1a1a"/>
<ellipse cx="712.55" cy="146.32" rx="2.2" ry="2.5" fill="#1a1a1a"/>
<ellipse cx="718.55" cy="144.82" rx="2.2" ry="2.5" fill="#1a1a1a"/>
<ellipse cx="724.51" cy="146.03" rx="2.2" ry="2.5" fill="#1a1a1a"/>
<path d="M719,147 L725,148.4 L725,210.6 L719,209.6 C698,206 698,151 719,147 Z" fill="#fff" stroke="#222" stroke-width="1.1"/>
<ellipse cx="724" cy="179.6" rx="16" ry="31" fill="#fff" stroke="#1e1e1e" stroke-width="1.6" transform="rotate(2.5 724 179.6)" />
<ellipse cx="722.6" cy="179.6" rx="11.8" ry="23.6" fill="none" stroke="#1e1e1e" stroke-width="1.7" transform="rotate(2.5 722.6 179.6)" />
<line x1="727.75" y1="182.09" x2="732.52" y2="191.15" stroke="#222" stroke-width="1.1"/>
<line x1="726.25" y1="185.21" x2="731.67" y2="193.53" stroke="#222" stroke-width="1.1"/>
<line x1="721.05" y1="187.97" x2="719.52" y2="202.72" stroke="#222" stroke-width="1.1"/>
<line x1="718.54" y1="186.99" x2="718.18" y2="202" stroke="#222" stroke-width="1.1"/>
<line x1="715.25" y1="180.9" x2="710.78" y2="182.34" stroke="#222" stroke-width="1.1"/>
<line x1="715.2" y1="177.17" x2="710.79" y2="179.52" stroke="#222" stroke-width="1.1"/>
<line x1="718.36" y1="170.65" x2="718.37" y2="158.17" stroke="#222" stroke-width="1.1"/>
<line x1="720.84" y1="169.33" x2="719.73" y2="157.15" stroke="#222" stroke-width="1.1"/>
<line x1="726.09" y1="171.38" x2="731.8" y2="163.61" stroke="#222" stroke-width="1.1"/>
<line x1="727.66" y1="174.29" x2="732.63" y2="165.81" stroke="#222" stroke-width="1.1"/>
<ellipse cx="721.7" cy="178.6" rx="6.6" ry="9.4" fill="#fff" stroke="#1e1e1e" stroke-width="1.6" transform="rotate(2.5 721.7 178.6)" />
<ellipse cx="721.5" cy="178.6" rx="4.2" ry="6.6" fill="none" stroke="#222" stroke-width="1.2" transform="rotate(2.5 721.5 178.6)" />
<ellipse cx="720.8" cy="178.5" rx="3" ry="5.4" fill="none" stroke="#333" stroke-width="0.8" transform="rotate(2.5 720.8 178.5)" /></g></defs>
<use href="#wheel"/>
<use href="#wheel" transform="translate(-468 197.5)"/>
<line x1="646" y1="170.46" x2="658" y2="171.94" stroke="#444" stroke-width="0.9" />
<line x1="715" y1="178" x2="737" y2="180.7" stroke="#444" stroke-width="0.9" />
<line x1="247" y1="375.5" x2="269" y2="378.2" stroke="#444" stroke-width="0.9" />
<g stroke="#333" fill="#fff">
<rect x="787" y="193" width="11.5" height="4" rx="1.8" stroke-width="1.2" fill="#444" transform="rotate(7 793 195)"/>
<ellipse cx="789.6" cy="194.6" rx="2.2" ry="3.3" stroke-width="1.1" fill="#222"/>
<path d="M823.5,186.8 L832,186 L832,199.5 L823.5,197.6 Z" stroke-width="1.2"/>
<ellipse cx="823.6" cy="192.2" rx="2.2" ry="5.4" stroke-width="1.2"/>
<ellipse cx="832" cy="192.7" rx="4.2" ry="8.2" stroke-width="1.6" fill="#ddd"/>
<ellipse cx="836.6" cy="193.2" rx="6" ry="8.6" stroke-width="2.2" stroke="#1e1e1e"/>
<ellipse cx="837" cy="193.2" rx="4" ry="6.3" stroke-width="1.1"/>
</g>
<rect x="880.5" y="161.5" width="52" height="53" fill="none" stroke="#555" stroke-width="1" stroke-dasharray="12 2.5 4 2.5"/>
<g transform="translate(907.8 171) rotate(-30)"><rect x="-3.8" y="-7.4" width="7.6" height="14.8" fill="#fff" stroke="#333" stroke-width="1.1"/><path d="M-3.8,7.4 L-1.4,4.6 L-1.4,-7.4 M-1.4,4.6 L3.8,4.6" stroke="#333" stroke-width="0.8" fill="none"/></g>
<g transform="translate(896 183.7) rotate(-30)"><rect x="-3.8" y="-7.4" width="7.6" height="14.8" fill="#fff" stroke="#333" stroke-width="1.1"/><path d="M-3.8,7.4 L-1.4,4.6 L-1.4,-7.4 M-1.4,4.6 L3.8,4.6" stroke="#333" stroke-width="0.8" fill="none"/></g>
<g transform="translate(918.6 191.3) rotate(-30)"><rect x="-3.8" y="-7.4" width="7.6" height="14.8" fill="#fff" stroke="#333" stroke-width="1.1"/><path d="M-3.8,7.4 L-1.4,4.6 L-1.4,-7.4 M-1.4,4.6 L3.8,4.6" stroke="#333" stroke-width="0.8" fill="none"/></g>
<g transform="translate(888.3 200.7) rotate(-30)"><rect x="-3.8" y="-7.4" width="7.6" height="14.8" fill="#fff" stroke="#333" stroke-width="1.1"/><path d="M-3.8,7.4 L-1.4,4.6 L-1.4,-7.4 M-1.4,4.6 L3.8,4.6" stroke="#333" stroke-width="0.8" fill="none"/></g>
<g transform="translate(906.7 200.7) rotate(-30)"><rect x="-3.8" y="-7.4" width="7.6" height="14.8" fill="#fff" stroke="#333" stroke-width="1.1"/><path d="M-3.8,7.4 L-1.4,4.6 L-1.4,-7.4 M-1.4,4.6 L3.8,4.6" stroke="#333" stroke-width="0.8" fill="none"/></g>
<rect x="790.6" y="143.7" width="75" height="118.4" rx="13" ry="13" fill="none" stroke="#f7ea1e" stroke-width="4.4"/>
<path d="M832.8,378 L832.8,481.6" fill="none" stroke="#fbf9c8" stroke-width="1.1"/>
<path d="M832.8,379 A19,19 0 0 1 851.8,359.6 L982.6,359.6 A19 19 0 0 1 1001.6,379 M832.8,481 A19,19 0 0 0 851.8,500.2 L982.6,500.2 A19 19 0 0 0 1001.6,481" fill="none" stroke="#f1ed52" stroke-width="1.2"/>
<rect x="96.5" y="266.5" width="322" height="218" fill="none" stroke="#444" stroke-width="1" stroke-dasharray="12.5 2.6 4.5 2.6"/>
<line x1="124" y1="360.24" x2="160" y2="364.68" stroke="#444" stroke-width="1" stroke-dasharray="12.5 2.6 4.5 2.6" stroke-dashoffset="0"/>
<line x1="262" y1="377.28" x2="322" y2="384.69" stroke="#444" stroke-width="1" stroke-dasharray="12.5 2.6 4.5 2.6" stroke-dashoffset="0"/>
<line x1="377" y1="391.48" x2="390" y2="393.09" stroke="#444" stroke-width="1" stroke-dasharray="12.5 2.6 4.5 2.6" stroke-dashoffset="0"/>
<ellipse cx="112.4" cy="358.7" rx="8.4" ry="11.8" fill="#fff" stroke="#222" stroke-width="1.7" />
<ellipse cx="114.6" cy="359" rx="8.6" ry="11.8" fill="#fff" stroke="#222" stroke-width="1.6" />
<ellipse cx="116.2" cy="359.1" rx="5.2" ry="8.4" fill="none" stroke="#1c1c1c" stroke-width="2.4" />
<ellipse cx="116.8" cy="359.1" rx="2.6" ry="5.2" fill="none" stroke="#333" stroke-width="1.0" />
<ellipse cx="397" cy="393.8" rx="8.4" ry="11.8" fill="#fff" stroke="#222" stroke-width="1.7" />
<ellipse cx="399.2" cy="394.1" rx="8.6" ry="11.8" fill="#fff" stroke="#222" stroke-width="1.6" />
<ellipse cx="400.8" cy="394.2" rx="5.2" ry="8.4" fill="none" stroke="#1c1c1c" stroke-width="2.4" />
<ellipse cx="401.4" cy="394.2" rx="2.6" ry="5.2" fill="none" stroke="#333" stroke-width="1.0" />
<g stroke="#222" fill="#fff">
<ellipse cx="328.2" cy="385.3" rx="5.4" ry="10.2" stroke-width="1.6"/>
<path d="M331,377.4 L366,382.6 L366,397.8 L331,393.2 Z" stroke-width="1.3"/>
<path d="M331.4,377.4 C327,380 327,391 331.4,393.2" stroke-width="1.2" fill="#fff"/>
<ellipse cx="370" cy="390.3" rx="6.6" ry="9.5" stroke-width="2.2" stroke="#1e1e1e"/>
<ellipse cx="370.6" cy="390.4" rx="3.3" ry="5.4" stroke-width="1.1"/>
</g>
<line x1="334" y1="386.37" x2="362" y2="389.83" stroke="#444" stroke-width="0.9" stroke-dasharray="7 2.5"/>
<polyline points="840.5,325 542,291.5 533.5,365.5" fill="none" stroke="#444" stroke-width="1" stroke-dasharray="12.5 2.6 4.5 2.6"/>
<line x1="533.5" y1="365.5" x2="614" y2="375.72" stroke="#444" stroke-width="1" stroke-dasharray="12.5 2.6 4.5 2.6" stroke-dashoffset="0"/>
<line x1="668" y1="382.58" x2="700" y2="386.65" stroke="#444" stroke-width="1" stroke-dasharray="12.5 2.6 4.5 2.6" stroke-dashoffset="0"/>
<line x1="735" y1="391.09" x2="842" y2="404.68" stroke="#444" stroke-width="1" stroke-dasharray="12.5 2.6 4.5 2.6" stroke-dashoffset="0"/>
<line x1="864" y1="407.47" x2="872" y2="408.49" stroke="#444" stroke-width="1" stroke-dasharray="12.5 2.6 4.5 2.6" stroke-dashoffset="0"/>
<g transform="translate(569.6 339) rotate(7)" stroke="#1e1e1e">
<rect x="2" y="-2.1" width="10" height="4.2" rx="1.2" fill="#fff" stroke-width="1.2"/>
<rect x="10.2" y="-1.9" width="2" height="3.8" rx="0.8" fill="#222" stroke="none"/>
<ellipse cx="1.2" cy="0" rx="2.7" ry="4.7" fill="#fff" stroke-width="1.4"/>
<path d="M-0.4,-3.9 L-2.6,-2.6 L-3.2,0 L-2.6,2.7 L-0.4,3.9 L0.9,2.4 L1.3,0 L0.9,-2.4 Z" fill="#6a6a6a" stroke-width="1.5" stroke-linejoin="round"/>
<ellipse cx="-0.9" cy="0" rx="1" ry="1.7" fill="#ddd" stroke="none"/>
</g>
<line x1="586.6" y1="341.3" x2="690" y2="354.07" stroke="#444" stroke-width="1" stroke-dasharray="9 3"/>
<g transform="translate(587.4 349.4) rotate(7)" stroke="#1e1e1e">
<rect x="2" y="-2.1" width="10" height="4.2" rx="1.2" fill="#fff" stroke-width="1.2"/>
<rect x="10.2" y="-1.9" width="2" height="3.8" rx="0.8" fill="#222" stroke="none"/>
<ellipse cx="1.2" cy="0" rx="2.7" ry="4.7" fill="#fff" stroke-width="1.4"/>
<path d="M-0.4,-3.9 L-2.6,-2.6 L-3.2,0 L-2.6,2.7 L-0.4,3.9 L0.9,2.4 L1.3,0 L0.9,-2.4 Z" fill="#6a6a6a" stroke-width="1.5" stroke-linejoin="round"/>
<ellipse cx="-0.9" cy="0" rx="1" ry="1.7" fill="#ddd" stroke="none"/>
</g>
<line x1="604.4" y1="351.7" x2="690" y2="362.27" stroke="#444" stroke-width="1" stroke-dasharray="9 3"/>
<g transform="translate(553.5 359.3) rotate(7)" stroke="#1e1e1e">
<rect x="2" y="-2.1" width="10" height="4.2" rx="1.2" fill="#fff" stroke-width="1.2"/>
<rect x="10.2" y="-1.9" width="2" height="3.8" rx="0.8" fill="#222" stroke="none"/>
<ellipse cx="1.2" cy="0" rx="2.7" ry="4.7" fill="#fff" stroke-width="1.4"/>
<path d="M-0.4,-3.9 L-2.6,-2.6 L-3.2,0 L-2.6,2.7 L-0.4,3.9 L0.9,2.4 L1.3,0 L0.9,-2.4 Z" fill="#6a6a6a" stroke-width="1.5" stroke-linejoin="round"/>
<ellipse cx="-0.9" cy="0" rx="1" ry="1.7" fill="#ddd" stroke="none"/>
</g>
<line x1="570.5" y1="361.6" x2="690" y2="376.36" stroke="#444" stroke-width="1" stroke-dasharray="9 3"/>
<g transform="translate(588.9 380.4) rotate(7)" stroke="#1e1e1e">
<rect x="2" y="-2.1" width="10" height="4.2" rx="1.2" fill="#fff" stroke-width="1.2"/>
<rect x="10.2" y="-1.9" width="2" height="3.8" rx="0.8" fill="#222" stroke="none"/>
<ellipse cx="1.2" cy="0" rx="2.7" ry="4.7" fill="#fff" stroke-width="1.4"/>
<path d="M-0.4,-3.9 L-2.6,-2.6 L-3.2,0 L-2.6,2.7 L-0.4,3.9 L0.9,2.4 L1.3,0 L0.9,-2.4 Z" fill="#6a6a6a" stroke-width="1.5" stroke-linejoin="round"/>
<ellipse cx="-0.9" cy="0" rx="1" ry="1.7" fill="#ddd" stroke="none"/>
</g>
<line x1="605.9" y1="382.7" x2="690" y2="393.09" stroke="#444" stroke-width="1" stroke-dasharray="9 3"/>
<g transform="translate(554.2 389) rotate(7)" stroke="#1e1e1e">
<rect x="2" y="-2.1" width="10" height="4.2" rx="1.2" fill="#fff" stroke-width="1.2"/>
<rect x="10.2" y="-1.9" width="2" height="3.8" rx="0.8" fill="#222" stroke="none"/>
<ellipse cx="1.2" cy="0" rx="2.7" ry="4.7" fill="#fff" stroke-width="1.4"/>
<path d="M-0.4,-3.9 L-2.6,-2.6 L-3.2,0 L-2.6,2.7 L-0.4,3.9 L0.9,2.4 L1.3,0 L0.9,-2.4 Z" fill="#6a6a6a" stroke-width="1.5" stroke-linejoin="round"/>
<ellipse cx="-0.9" cy="0" rx="1" ry="1.7" fill="#ddd" stroke="none"/>
</g>
<line x1="571.2" y1="391.3" x2="690" y2="405.97" stroke="#444" stroke-width="1" stroke-dasharray="9 3"/>
<g transform="translate(572 400.2) rotate(7)" stroke="#1e1e1e">
<rect x="2" y="-2.1" width="10" height="4.2" rx="1.2" fill="#fff" stroke-width="1.2"/>
<rect x="10.2" y="-1.9" width="2" height="3.8" rx="0.8" fill="#222" stroke="none"/>
<ellipse cx="1.2" cy="0" rx="2.7" ry="4.7" fill="#fff" stroke-width="1.4"/>
<path d="M-0.4,-3.9 L-2.6,-2.6 L-3.2,0 L-2.6,2.7 L-0.4,3.9 L0.9,2.4 L1.3,0 L0.9,-2.4 Z" fill="#6a6a6a" stroke-width="1.5" stroke-linejoin="round"/>
<ellipse cx="-0.9" cy="0" rx="1" ry="1.7" fill="#ddd" stroke="none"/>
</g>
<line x1="589" y1="402.5" x2="690" y2="414.97" stroke="#444" stroke-width="1" stroke-dasharray="9 3"/>
<line x1="742" y1="358.78" x2="789.2" y2="364.7" stroke="#444" stroke-width="1" stroke-dasharray="9 3"/>
<ellipse cx="793.2" cy="366" rx="3.5" ry="4" fill="#2a2a2a" stroke="#161616" stroke-width="1.6" />
<ellipse cx="793.7" cy="365.8" rx="1.3" ry="1.9" fill="#cfcfcf" stroke="#888" stroke-width="0.5" />
<line x1="793.5" y1="364.2" x2="793.5" y2="367.4" stroke="#333" stroke-width="0.6" />
<line x1="742" y1="367.34" x2="807.3" y2="375.5" stroke="#444" stroke-width="1" stroke-dasharray="9 3"/>
<ellipse cx="811.3" cy="376.8" rx="3.5" ry="4" fill="#2a2a2a" stroke="#161616" stroke-width="1.6" />
<ellipse cx="811.8" cy="376.6" rx="1.3" ry="1.9" fill="#cfcfcf" stroke="#888" stroke-width="0.5" />
<line x1="811.5" y1="375" x2="811.5" y2="378.2" stroke="#333" stroke-width="0.6" />
<line x1="742" y1="380.45" x2="773.2" y2="384.4" stroke="#444" stroke-width="1" stroke-dasharray="9 3"/>
<ellipse cx="777.2" cy="385.7" rx="3.5" ry="4" fill="#2a2a2a" stroke="#161616" stroke-width="1.6" />
<ellipse cx="777.7" cy="385.5" rx="1.3" ry="1.9" fill="#cfcfcf" stroke="#888" stroke-width="0.5" />
<line x1="777.5" y1="383.9" x2="777.5" y2="387.1" stroke="#333" stroke-width="0.6" />
<line x1="742" y1="398.54" x2="807.3" y2="406.7" stroke="#444" stroke-width="1" stroke-dasharray="9 3"/>
<ellipse cx="811.3" cy="408" rx="3.5" ry="4" fill="#2a2a2a" stroke="#161616" stroke-width="1.6" />
<ellipse cx="811.8" cy="407.8" rx="1.3" ry="1.9" fill="#cfcfcf" stroke="#888" stroke-width="0.5" />
<line x1="811.5" y1="406.2" x2="811.5" y2="409.4" stroke="#333" stroke-width="0.6" />
<line x1="742" y1="411.65" x2="773.2" y2="415.6" stroke="#444" stroke-width="1" stroke-dasharray="9 3"/>
<ellipse cx="777.2" cy="416.9" rx="3.5" ry="4" fill="#2a2a2a" stroke="#161616" stroke-width="1.6" />
<ellipse cx="777.7" cy="416.7" rx="1.3" ry="1.9" fill="#cfcfcf" stroke="#888" stroke-width="0.5" />
<line x1="777.5" y1="415.1" x2="777.5" y2="418.3" stroke="#333" stroke-width="0.6" />
<line x1="742" y1="420.31" x2="791.4" y2="426.5" stroke="#444" stroke-width="1" stroke-dasharray="9 3"/>
<ellipse cx="795.4" cy="427.8" rx="3.5" ry="4" fill="#2a2a2a" stroke="#161616" stroke-width="1.6" />
<ellipse cx="795.9" cy="427.6" rx="1.3" ry="1.9" fill="#cfcfcf" stroke="#888" stroke-width="0.5" />
<line x1="795.5" y1="426" x2="795.5" y2="429.2" stroke="#333" stroke-width="0.6" />
<g stroke="#1e1e1e" fill="#fff" stroke-linejoin="round">
<path d="M622,371.4 L613,371 L613,379.2 L622,379.8" stroke-width="1.4"/>
<ellipse cx="628.5" cy="380" rx="9.2" ry="17.8" stroke-width="1.9" transform="rotate(4 628.5 380)"/>
<ellipse cx="630" cy="380" rx="7.6" ry="15" stroke-width="1.2" transform="rotate(4 630 380)"/>
<path d="M621.4,368 L625,366 M620.6,392 L624.6,395 M620.2,374 L620.2,386" stroke-width="1.6"/>
<g transform="translate(643.2 348.6) rotate(-5)"><path d="M-4.8,7.5 L-4.2,-2.5 C-3.8,-6.2 3.8,-6.2 4.2,-2.5 L4.8,7.5 Z" stroke-width="1.9"/><ellipse cx="0" cy="-1.6" rx="1.8" ry="2" stroke-width="1.1"/></g>
<g transform="translate(626.2 357.6) rotate(-52)"><path d="M-4.8,7.5 L-4.2,-2.5 C-3.8,-6.2 3.8,-6.2 4.2,-2.5 L4.8,7.5 Z" stroke-width="1.9"/><ellipse cx="0" cy="-1.6" rx="1.8" ry="2" stroke-width="1.1"/></g>
<g transform="translate(661.9 358.4) rotate(50)"><path d="M-4.8,7.5 L-4.2,-2.5 C-3.8,-6.2 3.8,-6.2 4.2,-2.5 L4.8,7.5 Z" stroke-width="1.9"/><ellipse cx="0" cy="-1.6" rx="1.8" ry="2" stroke-width="1.1"/></g>
<g transform="translate(663.8 387.8) rotate(108)"><path d="M-4.8,7.5 L-4.2,-2.5 C-3.8,-6.2 3.8,-6.2 4.2,-2.5 L4.8,7.5 Z" stroke-width="1.9"/><ellipse cx="0" cy="-1.6" rx="1.8" ry="2" stroke-width="1.1"/></g>
<g transform="translate(645.4 408.8) rotate(175)"><path d="M-4.8,7.5 L-4.2,-2.5 C-3.8,-6.2 3.8,-6.2 4.2,-2.5 L4.8,7.5 Z" stroke-width="1.9"/><ellipse cx="0" cy="-1.6" rx="1.8" ry="2" stroke-width="1.1"/></g>
<g transform="translate(626.8 397.3) rotate(232)"><path d="M-4.8,7.5 L-4.2,-2.5 C-3.8,-6.2 3.8,-6.2 4.2,-2.5 L4.8,7.5 Z" stroke-width="1.9"/><ellipse cx="0" cy="-1.6" rx="1.8" ry="2" stroke-width="1.1"/></g>
<ellipse cx="644.2" cy="379" rx="18" ry="25.6" stroke-width="2.2" transform="rotate(4 644.2 379)"/>
<ellipse cx="645.2" cy="379" rx="16" ry="23" stroke-width="1.5" transform="rotate(4 645.2 379)"/>
<ellipse cx="646.2" cy="379" rx="14" ry="20.4" stroke-width="1.3" transform="rotate(4 646.2 379)"/>
<path d="M635,362.6 C629,369 629,390 635,396.4 L648,392 L648,366 Z" stroke-width="1.4" fill="#aaa"/>
<line x1="631" y1="365.7" x2="638.6" y2="364.2" stroke-width="1.5"/>
<line x1="631" y1="369.8" x2="638.6" y2="368.3" stroke-width="1.5"/>
<line x1="631" y1="373.9" x2="638.6" y2="372.4" stroke-width="1.5"/>
<line x1="631" y1="378" x2="638.6" y2="376.5" stroke-width="1.5"/>
<line x1="631" y1="382.1" x2="638.6" y2="380.6" stroke-width="1.5"/>
<line x1="631" y1="386.2" x2="638.6" y2="384.7" stroke-width="1.5"/>
<line x1="631" y1="390.3" x2="638.6" y2="388.8" stroke-width="1.5"/>
<line x1="631" y1="394.4" x2="638.6" y2="392.9" stroke-width="1.5"/>
<ellipse cx="639.4" cy="379" rx="5.6" ry="16.6" stroke-width="1.5" fill="#fff"/>
<ellipse cx="650.6" cy="378.9" rx="10.8" ry="13.8" stroke-width="2.3" fill="#fff"/>
<ellipse cx="651" cy="378.9" rx="8.6" ry="11.4" stroke-width="1.1" fill="#d8d8d8"/>
<ellipse cx="651.4" cy="378.9" rx="6.4" ry="9.1" stroke-width="1.7" fill="#fff"/>
<ellipse cx="651.8" cy="378.9" rx="3.6" ry="6" stroke-width="1.2"/>
</g>
<g transform="rotate(3.5 717.3 387.5)" stroke-linejoin="round">
<path d="M747.36,387.5 L747.35,388.84 L749.76,389.87 L749.69,391.72 L747.21,392.25 L747.11,393.59 L746.98,394.91 L749.29,396.43 L749.05,398.24 L746.55,398.26 L746.34,399.57 L746.1,400.86 L748.26,402.82 L747.88,404.57 L745.39,404.09 L745.07,405.34 L744.73,406.57 L746.71,408.96 L746.18,410.62 L743.76,409.64 L743.33,410.81 L742.89,411.96 L744.65,414.73 L743.99,416.26 L741.67,414.8 L741.15,415.88 L740.61,416.93 L742.12,420.03 L741.34,421.42 L739.16,419.5 L738.56,420.47 L737.94,421.4 L739.17,424.78 L738.28,426 L736.28,423.65 L735.6,424.49 L734.91,425.29 L735.85,428.89 L734.86,429.91 L733.07,427.19 L732.33,427.87 L731.58,428.53 L732.21,432.29 L731.14,433.1 L729.6,430.04 L728.8,430.57 L728,431.07 L728.31,434.92 L727.18,435.51 L725.91,432.17 L725.08,432.53 L724.24,432.86 L724.22,436.74 L723.06,437.1 L722.08,433.53 L721.22,433.72 L720.36,433.88 L720.02,437.72 L718.83,437.84 L718.17,434.1 L717.3,434.12 L716.43,434.1 L715.77,437.84 L714.58,437.72 L714.24,433.88 L713.38,433.72 L712.52,433.53 L711.54,437.1 L710.38,436.74 L710.36,432.86 L709.52,432.53 L708.69,432.17 L707.42,435.51 L706.29,434.92 L706.6,431.07 L705.8,430.57 L705,430.04 L703.46,433.1 L702.39,432.29 L703.02,428.53 L702.27,427.87 L701.53,427.19 L699.74,429.91 L698.75,428.89 L699.69,425.29 L699,424.49 L698.32,423.65 L696.32,426 L695.43,424.78 L696.66,421.4 L696.04,420.47 L695.44,419.5 L693.26,421.42 L692.48,420.03 L693.99,416.93 L693.45,415.88 L692.93,414.8 L690.61,416.26 L689.95,414.73 L691.71,411.96 L691.27,410.81 L690.84,409.64 L688.42,410.62 L687.89,408.96 L689.87,406.57 L689.53,405.34 L689.21,404.09 L686.72,404.57 L686.34,402.82 L688.5,400.86 L688.26,399.57 L688.05,398.26 L685.55,398.24 L685.31,396.43 L687.62,394.91 L687.49,393.59 L687.39,392.25 L684.91,391.72 L684.84,389.87 L687.25,388.84 L687.24,387.5 L687.25,386.16 L684.84,385.13 L684.91,383.28 L687.39,382.75 L687.49,381.41 L687.62,380.09 L685.31,378.57 L685.55,376.76 L688.05,376.74 L688.26,375.43 L688.5,374.14 L686.34,372.18 L686.72,370.43 L689.21,370.91 L689.53,369.66 L689.87,368.43 L687.89,366.04 L688.42,364.38 L690.84,365.36 L691.27,364.19 L691.71,363.04 L689.95,360.27 L690.61,358.74 L692.93,360.2 L693.45,359.12 L693.99,358.07 L692.48,354.97 L693.26,353.58 L695.44,355.5 L696.04,354.53 L696.66,353.6 L695.43,350.22 L696.32,349 L698.32,351.35 L699,350.51 L699.69,349.71 L698.75,346.11 L699.74,345.09 L701.53,347.81 L702.27,347.13 L703.02,346.47 L702.39,342.71 L703.46,341.9 L705,344.96 L705.8,344.43 L706.6,343.93 L706.29,340.08 L707.42,339.49 L708.69,342.83 L709.52,342.47 L710.36,342.14 L710.38,338.26 L711.54,337.9 L712.52,341.47 L713.38,341.28 L714.24,341.12 L714.58,337.28 L715.77,337.16 L716.43,340.9 L717.3,340.88 L718.17,340.9 L718.83,337.16 L720.02,337.28 L720.36,341.12 L721.22,341.28 L722.08,341.47 L723.06,337.9 L724.22,338.26 L724.24,342.14 L725.08,342.47 L725.91,342.83 L727.18,339.49 L728.31,340.08 L728,343.93 L728.8,344.43 L729.6,344.96 L731.14,341.9 L732.21,342.71 L731.58,346.47 L732.33,347.13 L733.07,347.81 L734.86,345.09 L735.85,346.11 L734.91,349.71 L735.6,350.51 L736.28,351.35 L738.28,349 L739.17,350.22 L737.94,353.6 L738.56,354.53 L739.16,355.5 L741.34,353.58 L742.12,354.97 L740.61,358.07 L741.15,359.12 L741.67,360.2 L743.99,358.74 L744.65,360.27 L742.89,363.04 L743.33,364.19 L743.76,365.36 L746.18,364.38 L746.71,366.04 L744.73,368.43 L745.07,369.66 L745.39,370.91 L747.88,370.43 L748.26,372.18 L746.1,374.14 L746.34,375.43 L746.55,376.74 L749.05,376.76 L749.29,378.57 L746.98,380.09 L747.11,381.41 L747.21,382.75 L749.69,383.28 L749.76,385.13 L747.35,386.16 Z" transform="translate(-1.6 0)" fill="#fff" stroke="#1c1c1c" stroke-width="1.7"/>
<path d="M747.36,387.5 L747.35,388.84 L749.76,389.87 L749.69,391.72 L747.21,392.25 L747.11,393.59 L746.98,394.91 L749.29,396.43 L749.05,398.24 L746.55,398.26 L746.34,399.57 L746.1,400.86 L748.26,402.82 L747.88,404.57 L745.39,404.09 L745.07,405.34 L744.73,406.57 L746.71,408.96 L746.18,410.62 L743.76,409.64 L743.33,410.81 L742.89,411.96 L744.65,414.73 L743.99,416.26 L741.67,414.8 L741.15,415.88 L740.61,416.93 L742.12,420.03 L741.34,421.42 L739.16,419.5 L738.56,420.47 L737.94,421.4 L739.17,424.78 L738.28,426 L736.28,423.65 L735.6,424.49 L734.91,425.29 L735.85,428.89 L734.86,429.91 L733.07,427.19 L732.33,427.87 L731.58,428.53 L732.21,432.29 L731.14,433.1 L729.6,430.04 L728.8,430.57 L728,431.07 L728.31,434.92 L727.18,435.51 L725.91,432.17 L725.08,432.53 L724.24,432.86 L724.22,436.74 L723.06,437.1 L722.08,433.53 L721.22,433.72 L720.36,433.88 L720.02,437.72 L718.83,437.84 L718.17,434.1 L717.3,434.12 L716.43,434.1 L715.77,437.84 L714.58,437.72 L714.24,433.88 L713.38,433.72 L712.52,433.53 L711.54,437.1 L710.38,436.74 L710.36,432.86 L709.52,432.53 L708.69,432.17 L707.42,435.51 L706.29,434.92 L706.6,431.07 L705.8,430.57 L705,430.04 L703.46,433.1 L702.39,432.29 L703.02,428.53 L702.27,427.87 L701.53,427.19 L699.74,429.91 L698.75,428.89 L699.69,425.29 L699,424.49 L698.32,423.65 L696.32,426 L695.43,424.78 L696.66,421.4 L696.04,420.47 L695.44,419.5 L693.26,421.42 L692.48,420.03 L693.99,416.93 L693.45,415.88 L692.93,414.8 L690.61,416.26 L689.95,414.73 L691.71,411.96 L691.27,410.81 L690.84,409.64 L688.42,410.62 L687.89,408.96 L689.87,406.57 L689.53,405.34 L689.21,404.09 L686.72,404.57 L686.34,402.82 L688.5,400.86 L688.26,399.57 L688.05,398.26 L685.55,398.24 L685.31,396.43 L687.62,394.91 L687.49,393.59 L687.39,392.25 L684.91,391.72 L684.84,389.87 L687.25,388.84 L687.24,387.5 L687.25,386.16 L684.84,385.13 L684.91,383.28 L687.39,382.75 L687.49,381.41 L687.62,380.09 L685.31,378.57 L685.55,376.76 L688.05,376.74 L688.26,375.43 L688.5,374.14 L686.34,372.18 L686.72,370.43 L689.21,370.91 L689.53,369.66 L689.87,368.43 L687.89,366.04 L688.42,364.38 L690.84,365.36 L691.27,364.19 L691.71,363.04 L689.95,360.27 L690.61,358.74 L692.93,360.2 L693.45,359.12 L693.99,358.07 L692.48,354.97 L693.26,353.58 L695.44,355.5 L696.04,354.53 L696.66,353.6 L695.43,350.22 L696.32,349 L698.32,351.35 L699,350.51 L699.69,349.71 L698.75,346.11 L699.74,345.09 L701.53,347.81 L702.27,347.13 L703.02,346.47 L702.39,342.71 L703.46,341.9 L705,344.96 L705.8,344.43 L706.6,343.93 L706.29,340.08 L707.42,339.49 L708.69,342.83 L709.52,342.47 L710.36,342.14 L710.38,338.26 L711.54,337.9 L712.52,341.47 L713.38,341.28 L714.24,341.12 L714.58,337.28 L715.77,337.16 L716.43,340.9 L717.3,340.88 L718.17,340.9 L718.83,337.16 L720.02,337.28 L720.36,341.12 L721.22,341.28 L722.08,341.47 L723.06,337.9 L724.22,338.26 L724.24,342.14 L725.08,342.47 L725.91,342.83 L727.18,339.49 L728.31,340.08 L728,343.93 L728.8,344.43 L729.6,344.96 L731.14,341.9 L732.21,342.71 L731.58,346.47 L732.33,347.13 L733.07,347.81 L734.86,345.09 L735.85,346.11 L734.91,349.71 L735.6,350.51 L736.28,351.35 L738.28,349 L739.17,350.22 L737.94,353.6 L738.56,354.53 L739.16,355.5 L741.34,353.58 L742.12,354.97 L740.61,358.07 L741.15,359.12 L741.67,360.2 L743.99,358.74 L744.65,360.27 L742.89,363.04 L743.33,364.19 L743.76,365.36 L746.18,364.38 L746.71,366.04 L744.73,368.43 L745.07,369.66 L745.39,370.91 L747.88,370.43 L748.26,372.18 L746.1,374.14 L746.34,375.43 L746.55,376.74 L749.05,376.76 L749.29,378.57 L746.98,380.09 L747.11,381.41 L747.21,382.75 L749.69,383.28 L749.76,385.13 L747.35,386.16 Z" fill="#fff" stroke="#1c1c1c" stroke-width="1.7"/>
<ellipse cx="718.5" cy="387.5" rx="17.2" ry="25.8" fill="none" stroke="#222" stroke-width="1.4" />
<ellipse cx="717.5" cy="387.5" rx="16.6" ry="25.2" fill="none" stroke="#333" stroke-width="1.0" />
<ellipse cx="746.23" cy="388.16" rx="0.95" ry="1.05" fill="#1a1a1a" stroke="#111" stroke-width="0.4" />
<ellipse cx="745.92" cy="394.18" rx="0.95" ry="1.05" fill="#1a1a1a" stroke="#111" stroke-width="0.4" />
<ellipse cx="745.11" cy="400.08" rx="0.95" ry="1.05" fill="#1a1a1a" stroke="#111" stroke-width="0.4" />
<ellipse cx="743.81" cy="405.76" rx="0.95" ry="1.05" fill="#1a1a1a" stroke="#111" stroke-width="0.4" />
<ellipse cx="742.04" cy="411.13" rx="0.95" ry="1.05" fill="#1a1a1a" stroke="#111" stroke-width="0.4" />
<ellipse cx="739.83" cy="416.1" rx="0.95" ry="1.05" fill="#1a1a1a" stroke="#111" stroke-width="0.4" />
<ellipse cx="737.22" cy="420.58" rx="0.95" ry="1.05" fill="#1a1a1a" stroke="#111" stroke-width="0.4" />
<ellipse cx="734.26" cy="424.49" rx="0.95" ry="1.05" fill="#1a1a1a" stroke="#111" stroke-width="0.4" />
<ellipse cx="731" cy="427.77" rx="0.95" ry="1.05" fill="#1a1a1a" stroke="#111" stroke-width="0.4" />
<ellipse cx="727.48" cy="430.36" rx="0.95" ry="1.05" fill="#1a1a1a" stroke="#111" stroke-width="0.4" />
<ellipse cx="723.78" cy="432.21" rx="0.95" ry="1.05" fill="#1a1a1a" stroke="#111" stroke-width="0.4" />
<ellipse cx="719.96" cy="433.3" rx="0.95" ry="1.05" fill="#1a1a1a" stroke="#111" stroke-width="0.4" />
<ellipse cx="716.07" cy="433.61" rx="0.95" ry="1.05" fill="#1a1a1a" stroke="#111" stroke-width="0.4" />
<ellipse cx="712.19" cy="433.13" rx="0.95" ry="1.05" fill="#1a1a1a" stroke="#111" stroke-width="0.4" />
<ellipse cx="708.39" cy="431.87" rx="0.95" ry="1.05" fill="#1a1a1a" stroke="#111" stroke-width="0.4" />
<ellipse cx="704.73" cy="429.85" rx="0.95" ry="1.05" fill="#1a1a1a" stroke="#111" stroke-width="0.4" />
<ellipse cx="701.26" cy="427.1" rx="0.95" ry="1.05" fill="#1a1a1a" stroke="#111" stroke-width="0.4" />
<ellipse cx="698.06" cy="423.68" rx="0.95" ry="1.05" fill="#1a1a1a" stroke="#111" stroke-width="0.4" />
<ellipse cx="695.17" cy="419.64" rx="0.95" ry="1.05" fill="#1a1a1a" stroke="#111" stroke-width="0.4" />
<ellipse cx="692.65" cy="415.04" rx="0.95" ry="1.05" fill="#1a1a1a" stroke="#111" stroke-width="0.4" />
<ellipse cx="690.54" cy="409.98" rx="0.95" ry="1.05" fill="#1a1a1a" stroke="#111" stroke-width="0.4" />
<ellipse cx="688.87" cy="404.53" rx="0.95" ry="1.05" fill="#1a1a1a" stroke="#111" stroke-width="0.4" />
<ellipse cx="687.67" cy="398.79" rx="0.95" ry="1.05" fill="#1a1a1a" stroke="#111" stroke-width="0.4" />
<ellipse cx="686.96" cy="392.86" rx="0.95" ry="1.05" fill="#1a1a1a" stroke="#111" stroke-width="0.4" />
<ellipse cx="686.77" cy="386.84" rx="0.95" ry="1.05" fill="#1a1a1a" stroke="#111" stroke-width="0.4" />
<ellipse cx="687.08" cy="380.82" rx="0.95" ry="1.05" fill="#1a1a1a" stroke="#111" stroke-width="0.4" />
<ellipse cx="687.89" cy="374.92" rx="0.95" ry="1.05" fill="#1a1a1a" stroke="#111" stroke-width="0.4" />
<ellipse cx="689.19" cy="369.24" rx="0.95" ry="1.05" fill="#1a1a1a" stroke="#111" stroke-width="0.4" />
<ellipse cx="690.96" cy="363.87" rx="0.95" ry="1.05" fill="#1a1a1a" stroke="#111" stroke-width="0.4" />
<ellipse cx="693.17" cy="358.9" rx="0.95" ry="1.05" fill="#1a1a1a" stroke="#111" stroke-width="0.4" />
<ellipse cx="695.78" cy="354.42" rx="0.95" ry="1.05" fill="#1a1a1a" stroke="#111" stroke-width="0.4" />
<ellipse cx="698.74" cy="350.51" rx="0.95" ry="1.05" fill="#1a1a1a" stroke="#111" stroke-width="0.4" />
<ellipse cx="702" cy="347.23" rx="0.95" ry="1.05" fill="#1a1a1a" stroke="#111" stroke-width="0.4" />
<ellipse cx="705.52" cy="344.64" rx="0.95" ry="1.05" fill="#1a1a1a" stroke="#111" stroke-width="0.4" />
<ellipse cx="709.22" cy="342.79" rx="0.95" ry="1.05" fill="#1a1a1a" stroke="#111" stroke-width="0.4" />
<ellipse cx="713.04" cy="341.7" rx="0.95" ry="1.05" fill="#1a1a1a" stroke="#111" stroke-width="0.4" />
<ellipse cx="716.93" cy="341.39" rx="0.95" ry="1.05" fill="#1a1a1a" stroke="#111" stroke-width="0.4" />
<ellipse cx="720.81" cy="341.87" rx="0.95" ry="1.05" fill="#1a1a1a" stroke="#111" stroke-width="0.4" />
<ellipse cx="724.61" cy="343.13" rx="0.95" ry="1.05" fill="#1a1a1a" stroke="#111" stroke-width="0.4" />
<ellipse cx="728.27" cy="345.15" rx="0.95" ry="1.05" fill="#1a1a1a" stroke="#111" stroke-width="0.4" />
<ellipse cx="731.74" cy="347.9" rx="0.95" ry="1.05" fill="#1a1a1a" stroke="#111" stroke-width="0.4" />
<ellipse cx="734.94" cy="351.32" rx="0.95" ry="1.05" fill="#1a1a1a" stroke="#111" stroke-width="0.4" />
<ellipse cx="737.83" cy="355.36" rx="0.95" ry="1.05" fill="#1a1a1a" stroke="#111" stroke-width="0.4" />
<ellipse cx="740.35" cy="359.96" rx="0.95" ry="1.05" fill="#1a1a1a" stroke="#111" stroke-width="0.4" />
<ellipse cx="742.46" cy="365.02" rx="0.95" ry="1.05" fill="#1a1a1a" stroke="#111" stroke-width="0.4" />
<ellipse cx="744.13" cy="370.47" rx="0.95" ry="1.05" fill="#1a1a1a" stroke="#111" stroke-width="0.4" />
<ellipse cx="745.33" cy="376.21" rx="0.95" ry="1.05" fill="#1a1a1a" stroke="#111" stroke-width="0.4" />
<ellipse cx="746.04" cy="382.14" rx="0.95" ry="1.05" fill="#1a1a1a" stroke="#111" stroke-width="0.4" />
<g transform="translate(730.91 357.98) rotate(47.96)"><rect x="-7.4" y="-2.5" width="14.8" height="5" rx="2.5" fill="#fff" stroke="#1e1e1e" stroke-width="1.4"/><line x1="-5.4" y1="0.7" x2="5.4" y2="0.7" stroke="#444" stroke-width="0.8"/></g>
<ellipse cx="735.81" cy="370.68" rx="1.3" ry="1.8" fill="#555" stroke="#111" stroke-width="1.1" />
<ellipse cx="737.59" cy="376.72" rx="1.3" ry="1.8" fill="#555" stroke="#111" stroke-width="1.1" />
<g transform="translate(740.59 391.02) rotate(93.6)"><path d="M-6,0.4 C-6,-3 -1,-3.6 3,-3.2 C6.4,-2.8 6.6,2.4 3.4,3 C-1,3.6 -6,3.4 -6,0.4 Z" fill="#fff" stroke="#1e1e1e" stroke-width="1.4"/><path d="M-4.6,1.6 C-1,2.4 2,2.2 4.4,1.6" fill="none" stroke="#444" stroke-width="0.8"/></g>
<ellipse cx="735.94" cy="403.95" rx="1.3" ry="1.8" fill="#555" stroke="#111" stroke-width="1.1" />
<ellipse cx="733.47" cy="409.36" rx="1.3" ry="1.8" fill="#555" stroke="#111" stroke-width="1.1" />
<g transform="translate(726.98 420.54) rotate(144.84)"><rect x="-7.4" y="-2.5" width="14.8" height="5" rx="2.5" fill="#fff" stroke="#1e1e1e" stroke-width="1.4"/><line x1="-5.4" y1="0.7" x2="5.4" y2="0.7" stroke="#444" stroke-width="0.8"/></g>
<ellipse cx="717.44" cy="420.76" rx="1.3" ry="1.8" fill="#555" stroke="#111" stroke-width="1.1" />
<ellipse cx="713.17" cy="420.14" rx="1.3" ry="1.8" fill="#555" stroke="#111" stroke-width="1.1" />
<g transform="translate(703.69 417.02) rotate(-132.04)"><path d="M-6,0.4 C-6,-3 -1,-3.6 3,-3.2 C6.4,-2.8 6.6,2.4 3.4,3 C-1,3.6 -6,3.4 -6,0.4 Z" fill="#fff" stroke="#1e1e1e" stroke-width="1.4"/><path d="M-4.6,1.6 C-1,2.4 2,2.2 4.4,1.6" fill="none" stroke="#444" stroke-width="0.8"/></g>
<ellipse cx="698.79" cy="404.32" rx="1.3" ry="1.8" fill="#555" stroke="#111" stroke-width="1.1" />
<ellipse cx="697.01" cy="398.28" rx="1.3" ry="1.8" fill="#555" stroke="#111" stroke-width="1.1" />
<g transform="translate(694.01 383.98) rotate(-86.4)"><rect x="-7.4" y="-2.5" width="14.8" height="5" rx="2.5" fill="#fff" stroke="#1e1e1e" stroke-width="1.4"/><line x1="-5.4" y1="0.7" x2="5.4" y2="0.7" stroke="#444" stroke-width="0.8"/></g>
<ellipse cx="698.66" cy="371.05" rx="1.3" ry="1.8" fill="#555" stroke="#111" stroke-width="1.1" />
<ellipse cx="701.13" cy="365.64" rx="1.3" ry="1.8" fill="#555" stroke="#111" stroke-width="1.1" />
<g transform="translate(707.62 354.46) rotate(-35.16)"><path d="M-6,0.4 C-6,-3 -1,-3.6 3,-3.2 C6.4,-2.8 6.6,2.4 3.4,3 C-1,3.6 -6,3.4 -6,0.4 Z" fill="#fff" stroke="#1e1e1e" stroke-width="1.4"/><path d="M-4.6,1.6 C-1,2.4 2,2.2 4.4,1.6" fill="none" stroke="#444" stroke-width="0.8"/></g>
<ellipse cx="717.16" cy="354.24" rx="1.3" ry="1.8" fill="#555" stroke="#111" stroke-width="1.1" />
<ellipse cx="721.43" cy="354.86" rx="1.3" ry="1.8" fill="#555" stroke="#111" stroke-width="1.1" />
</g>
<defs><clipPath id="sclip"><ellipse cx="717.5" cy="387.5" rx="15.8" ry="24.4" transform="rotate(3.5 717.3 387.5)"/></clipPath></defs>
<g clip-path="url(#sclip)">
<line x1="690" y1="354.07" x2="745" y2="360.86" stroke="#444" stroke-width="1" stroke-dasharray="9 3"/>
<line x1="690" y1="362.27" x2="745" y2="369.06" stroke="#444" stroke-width="1" stroke-dasharray="9 3"/>
<line x1="690" y1="376.36" x2="745" y2="383.15" stroke="#444" stroke-width="1" stroke-dasharray="9 3"/>
<line x1="690" y1="393.09" x2="745" y2="399.88" stroke="#444" stroke-width="1" stroke-dasharray="9 3"/>
<line x1="690" y1="405.97" x2="745" y2="412.76" stroke="#444" stroke-width="1" stroke-dasharray="9 3"/>
<line x1="690" y1="414.97" x2="745" y2="421.77" stroke="#444" stroke-width="1" stroke-dasharray="9 3"/>
<line x1="700" y1="386.65" x2="740" y2="391.73" stroke="#444" stroke-width="1" stroke-dasharray="12.5 2.6 4.5 2.6" stroke-dashoffset="0"/>
</g>
<g stroke="#333" fill="#fff">
<path d="M843,397.2 L851,396.6 L851,409.6 L843,407.4 Z" stroke-width="1.2"/>
<ellipse cx="843.2" cy="402.3" rx="2.2" ry="5.1" stroke-width="1.2"/>
<ellipse cx="851" cy="403" rx="4" ry="8" stroke-width="1.3" fill="#ddd"/>
<ellipse cx="855.6" cy="403.6" rx="6" ry="9" stroke-width="2.1" stroke="#222"/>
<ellipse cx="855.9" cy="403.6" rx="4" ry="6.6" stroke-width="1.1"/>
</g>
<g stroke="#333" fill="#fff" stroke-width="1.2">
<path d="M875.5,403.4 L881,402.8 L881,412.8 L875.5,411.4 C873,410.2 873,404.8 875.5,403.4 Z"/>
<path d="M881,402 L982,414.8 L982,426.2 L881,413.4 Z"/>
<ellipse cx="881" cy="407.7" rx="1.8" ry="5.7"/>
<ellipse cx="985" cy="420.6" rx="6" ry="8.2" stroke-width="2" stroke="#222"/>
<ellipse cx="985.4" cy="420.6" rx="3.5" ry="5.4" stroke-width="1.1"/>
</g>
<g stroke="#262626" fill="none" stroke-linejoin="round">
<path d="M531.5,486.4 L703,460.3 C724,458.5 738.5,488 738.5,509 C738.5,532 727,560 707,558.4 L530.5,527.4 C514,523 514,491 531.5,486.4 Z" stroke-width="1.5" fill="#fff"/>
<path d="M539,493.4 L703,467.6 C717,467 726.6,490 726.6,508 C726.6,528 717,549 703,548.6 L536,519.6 C527,517 528,496 539,493.4 Z" stroke-width="1.3"/>
<path d="M531.5,486.4 L535,488.6 C523.5,493 523.5,520 533.5,525.6 L530.5,527.4" stroke-width="1.0"/>
<path d="M535,488.6 L703,462.6 C721,461.5 734.4,489 734.4,509 C734.4,531 724.5,556.5 706.5,555.4 L533.5,525.6" stroke-width="0.9"/>
<path d="M703,467.6 C720,466 731,490 731,508.5 C731,529 721,552 704,551.6" stroke-width="0.9"/>
</g>
<text transform="translate(33.5 148.7) scale(0.915 1)" font-size="16.8" text-anchor="middle" fill="#2e2e34" stroke="#2e2e34" stroke-width="0.28">10</text>
<line x1="34.5" y1="106" x2="34.5" y2="130" stroke="#3c3c3c" stroke-width="1.3" />
<text transform="translate(59 153) scale(0.915 1)" font-size="16.8" text-anchor="middle" fill="#2e2e34" stroke="#2e2e34" stroke-width="0.28">9</text>
<line x1="61.5" y1="110" x2="61.5" y2="135.5" stroke="#3c3c3c" stroke-width="1.3" />
<text transform="translate(86.5 157) scale(0.915 1)" font-size="16.8" text-anchor="middle" fill="#2e2e34" stroke="#2e2e34" stroke-width="0.28">18</text>
<line x1="86.5" y1="114" x2="86.5" y2="139" stroke="#3c3c3c" stroke-width="1.3" />
<text transform="translate(108.5 159) scale(0.915 1)" font-size="16.8" text-anchor="middle" fill="#2e2e34" stroke="#2e2e34" stroke-width="0.28">19</text>
<line x1="109.5" y1="115" x2="109.5" y2="140" stroke="#3c3c3c" stroke-width="1.3" />
<text transform="translate(135 132.5) scale(0.915 1)" font-size="16.8" text-anchor="middle" fill="#2e2e34" stroke="#2e2e34" stroke-width="0.28">22</text>
<line x1="135.5" y1="89" x2="135.5" y2="115" stroke="#3c3c3c" stroke-width="1.3" />
<text transform="translate(150.5 144.5) scale(0.915 1)" font-size="16.8" text-anchor="middle" fill="#2e2e34" stroke="#2e2e34" stroke-width="0.28">21</text>
<line x1="152.5" y1="99" x2="152.5" y2="125.5" stroke="#3c3c3c" stroke-width="1.3" />
<text transform="translate(189 168) scale(0.915 1)" font-size="16.8" text-anchor="middle" fill="#2e2e34" stroke="#2e2e34" stroke-width="0.28">20</text>
<line x1="190.5" y1="126" x2="190.5" y2="150.5" stroke="#3c3c3c" stroke-width="1.3" />
<text transform="translate(223 174.5) scale(0.915 1)" font-size="16.8" text-anchor="middle" fill="#2e2e34" stroke="#2e2e34" stroke-width="0.28">19</text>
<line x1="223.5" y1="129.5" x2="223.5" y2="157.5" stroke="#3c3c3c" stroke-width="1.3" />
<text transform="translate(245 177) scale(0.915 1)" font-size="16.8" text-anchor="middle" fill="#2e2e34" stroke="#2e2e34" stroke-width="0.28">18</text>
<line x1="246.5" y1="132.5" x2="246.5" y2="160" stroke="#3c3c3c" stroke-width="1.3" />
<text transform="translate(351.5 234) scale(0.915 1)" font-size="16.8" text-anchor="middle" fill="#2e2e34" stroke="#2e2e34" stroke-width="0.28">16</text>
<line x1="352.5" y1="193.5" x2="352.5" y2="216.5" stroke="#3c3c3c" stroke-width="1.3" />
<text transform="translate(488.8 206.4) scale(0.915 1)" font-size="16.8" text-anchor="middle" fill="#2e2e34" stroke="#2e2e34" stroke-width="0.28">15</text>
<line x1="489.5" y1="164" x2="489.5" y2="189" stroke="#3c3c3c" stroke-width="1.3" />
<text transform="translate(483 329) scale(0.915 1)" font-size="16.8" text-anchor="middle" fill="#2e2e34" stroke="#2e2e34" stroke-width="0.28">14</text>
<line x1="483.5" y1="286" x2="483.5" y2="311" stroke="#3c3c3c" stroke-width="1.3" />
<text transform="translate(682.3 314.7) scale(0.915 1)" font-size="16.8" text-anchor="middle" fill="#2e2e34" stroke="#2e2e34" stroke-width="0.28">13</text>
<line x1="682.5" y1="272" x2="682.5" y2="296" stroke="#3c3c3c" stroke-width="1.3" />
<text transform="translate(835.7 148.3) scale(0.915 1)" font-size="16.8" text-anchor="middle" fill="#2e2e34" stroke="#2e2e34" stroke-width="0.28">12</text>
<line x1="835.5" y1="150.6" x2="835.5" y2="181" stroke="#3c3c3c" stroke-width="1.3" />
<text transform="translate(905.3 261.5) scale(0.915 1)" font-size="16.8" text-anchor="middle" fill="#2e2e34" stroke="#2e2e34" stroke-width="0.28">8</text>
<line x1="905.5" y1="220.5" x2="905.5" y2="244.5" stroke="#3c3c3c" stroke-width="1.3" />
<text transform="translate(719.9 301.7) scale(0.915 1)" font-size="16.8" text-anchor="middle" fill="#2e2e34" stroke="#2e2e34" stroke-width="0.28">4</text>
<line x1="720.5" y1="308.7" x2="720.5" y2="334" stroke="#3c3c3c" stroke-width="1.3" />
<text transform="translate(644.6 458) scale(0.915 1)" font-size="16.8" text-anchor="middle" fill="#2e2e34" stroke="#2e2e34" stroke-width="0.28">6</text>
<line x1="645.5" y1="414" x2="645.5" y2="439.2" stroke="#3c3c3c" stroke-width="1.3" />
<text transform="translate(852.5 460.4) scale(0.915 1)" font-size="16.8" text-anchor="middle" fill="#2e2e34" stroke="#2e2e34" stroke-width="0.28">2</text>
<line x1="853.5" y1="416" x2="853.5" y2="441.5" stroke="#3c3c3c" stroke-width="1.3" />
<text transform="translate(928.3 464.2) scale(0.915 1)" font-size="16.8" text-anchor="middle" fill="#2e2e34" stroke="#2e2e34" stroke-width="0.28">1</text>
<line x1="929.5" y1="422" x2="929.5" y2="445.7" stroke="#3c3c3c" stroke-width="1.3" />
<text transform="translate(112.7 419.7) scale(0.915 1)" font-size="16.8" text-anchor="middle" fill="#2e2e34" stroke="#2e2e34" stroke-width="0.28">24</text>
<line x1="113.5" y1="376" x2="113.5" y2="401.4" stroke="#3c3c3c" stroke-width="1.3" />
<text transform="translate(347.4 441) scale(0.915 1)" font-size="16.8" text-anchor="middle" fill="#2e2e34" stroke="#2e2e34" stroke-width="0.28">25</text>
<line x1="348.5" y1="399.3" x2="348.5" y2="422.7" stroke="#3c3c3c" stroke-width="1.3" />
<text transform="translate(399.2 454.5) scale(0.915 1)" font-size="16.8" text-anchor="middle" fill="#2e2e34" stroke="#2e2e34" stroke-width="0.28">24</text>
<line x1="399.5" y1="412" x2="399.5" y2="438.4" stroke="#3c3c3c" stroke-width="1.3" />
<text transform="translate(790.4 246) scale(0.915 1)" font-size="16.8" text-anchor="middle" fill="#2e2e34" stroke="#2e2e34" stroke-width="0.28">11</text>
<text transform="translate(775.4 515) scale(0.915 1)" font-size="16.8" text-anchor="middle" fill="#2e2e34" stroke="#2e2e34" stroke-width="0.28">5</text>
<line x1="742.4" y1="509.5" x2="767" y2="509.5" stroke="#3c3c3c" stroke-width="1.3" />
<text transform="translate(113 32) scale(0.915 1)" font-size="16.8" text-anchor="middle" fill="#2e2e34" stroke="#2e2e34" stroke-width="0.28">23</text>
<polyline points="102.5,70.5 102.5,45.5 125.5,45.5 125.5,57.5" fill="none" stroke="#3c3c3c" stroke-width="1.2" />
<line x1="113.5" y1="35" x2="113.5" y2="45.5" stroke="#3c3c3c" stroke-width="1.2" />
<text transform="translate(289.5 80) scale(0.915 1)" font-size="16.8" text-anchor="middle" fill="#2e2e34" stroke="#2e2e34" stroke-width="0.28">17</text>
<polyline points="276.5,107.5 276.5,93.5 302.5,93.5 302.5,114.5" fill="none" stroke="#3c3c3c" stroke-width="1.2" />
<line x1="289.5" y1="84.8" x2="289.5" y2="93" stroke="#3c3c3c" stroke-width="1.2" />
<text transform="translate(283 181.5) scale(0.915 1)" font-size="16.8" text-anchor="middle" fill="#2e2e34" stroke="#2e2e34" stroke-width="0.28">17</text>
<polyline points="269.5,139.5 269.5,158.5 296.5,158.5 296.5,147.5" fill="none" stroke="#3c3c3c" stroke-width="1.2" />
<line x1="283.5" y1="158.6" x2="283.5" y2="166.6" stroke="#3c3c3c" stroke-width="1.2" />
<text transform="translate(575.8 311.7) scale(0.915 1)" font-size="16.8" text-anchor="middle" fill="#2e2e34" stroke="#2e2e34" stroke-width="0.28">7</text>
<polyline points="558.5,354.5 558.5,328.5 594.5,328.5 594.5,343.5" fill="none" stroke="#3c3c3c" stroke-width="1.2" />
<line x1="576.5" y1="317.2" x2="576.5" y2="328.8" stroke="#3c3c3c" stroke-width="1.2" />
<text transform="translate(577 441) scale(0.915 1)" font-size="16.8" text-anchor="middle" fill="#2e2e34" stroke="#2e2e34" stroke-width="0.28">7</text>
<polyline points="560.5,395.5 560.5,411.5 594.5,411.5 594.5,385.5" fill="none" stroke="#3c3c3c" stroke-width="1.2" />
<line x1="577.5" y1="411.4" x2="577.5" y2="421.5" stroke="#3c3c3c" stroke-width="1.2" />
<text transform="translate(793.2 336.7) scale(0.915 1)" font-size="16.8" text-anchor="middle" fill="#2e2e34" stroke="#2e2e34" stroke-width="0.28">3</text>
<polyline points="776.5,380.5 776.5,354.5 811.5,354.5 811.5,372.5" fill="none" stroke="#3c3c3c" stroke-width="1.2" />
<line x1="793.5" y1="342" x2="793.5" y2="354" stroke="#3c3c3c" stroke-width="1.2" />
<text transform="translate(794 470) scale(0.915 1)" font-size="16.8" text-anchor="middle" fill="#2e2e34" stroke="#2e2e34" stroke-width="0.28">3</text>
<polyline points="776.5,421.5 776.5,440.5 811.5,440.5 811.5,410.5" fill="none" stroke="#3c3c3c" stroke-width="1.2" />
<line x1="794.5" y1="440.2" x2="794.5" y2="452" stroke="#3c3c3c" stroke-width="1.2" />
</svg>
</body></html>
